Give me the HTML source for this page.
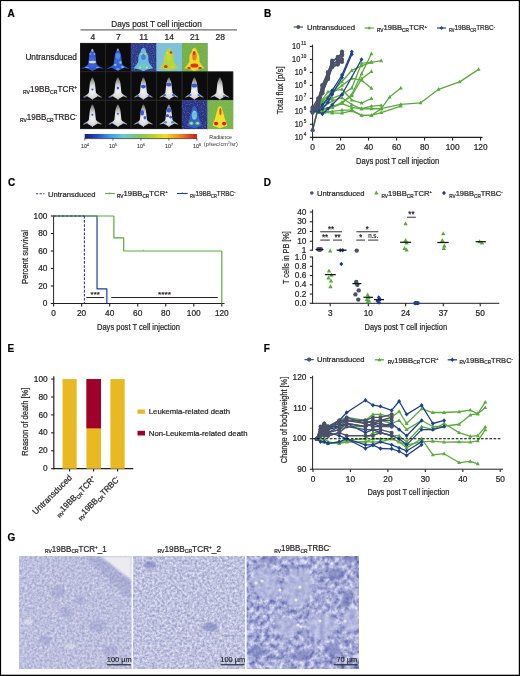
<!DOCTYPE html><html><head><meta charset="utf-8"><style>html,body{margin:0;padding:0;background:#fff;overflow:hidden}svg{display:block;will-change:transform}text{font-family:"Liberation Sans",sans-serif;stroke:#231f20;stroke-width:0.22px;paint-order:stroke}</style></head><body>
<svg width="520" height="676" viewBox="0 0 520 676">
<rect x="0" y="0" width="520" height="676" fill="#fff"/>
<text x="7.50" y="16.80" font-size="10" text-anchor="start" font-weight="bold" fill="#000" >A</text>
<text x="264.00" y="16.70" font-size="10" text-anchor="start" font-weight="bold" fill="#000" >B</text>
<text x="8.00" y="185.50" font-size="10" text-anchor="start" font-weight="bold" fill="#000" >C</text>
<text x="263.80" y="186.30" font-size="10" text-anchor="start" font-weight="bold" fill="#000" >D</text>
<text x="7.50" y="352.00" font-size="10" text-anchor="start" font-weight="bold" fill="#000" >E</text>
<text x="263.80" y="352.00" font-size="10" text-anchor="start" font-weight="bold" fill="#000" >F</text>
<text x="7.60" y="540.60" font-size="10" text-anchor="start" font-weight="bold" fill="#000" >G</text>
<text x="156.50" y="26.60" font-size="8.6" text-anchor="middle" font-weight="normal" fill="#231f20" textLength="90.50" lengthAdjust="spacingAndGlyphs" >Days post T cell injection</text>
<line x1="80.50" y1="29.80" x2="237.00" y2="29.80" stroke="#6d6e71" stroke-width="1.3" />
<text x="92.75" y="40.00" font-size="8.5" text-anchor="middle" font-weight="normal" fill="#231f20" >4</text>
<text x="118.25" y="40.00" font-size="8.5" text-anchor="middle" font-weight="normal" fill="#231f20" >7</text>
<text x="143.75" y="40.00" font-size="8.5" text-anchor="middle" font-weight="normal" fill="#231f20" >11</text>
<text x="169.25" y="40.00" font-size="8.5" text-anchor="middle" font-weight="normal" fill="#231f20" >14</text>
<text x="194.75" y="40.00" font-size="8.5" text-anchor="middle" font-weight="normal" fill="#231f20" >21</text>
<text x="220.25" y="40.00" font-size="8.5" text-anchor="middle" font-weight="normal" fill="#231f20" >28</text>
<text x="77.00" y="60.30" font-size="8.3" text-anchor="end" font-weight="normal" fill="#231f20" textLength="51.60" lengthAdjust="spacingAndGlyphs" >Untransduced</text>
<text x="77.00" y="91.90" font-size="8.3" text-anchor="end" fill="#231f20" textLength="54.00" lengthAdjust="spacingAndGlyphs" ><tspan font-size="5.15" dy="1.66">RV</tspan><tspan dy="-1.66">19BB</tspan><tspan font-size="5.15" dy="1.66">CR</tspan><tspan dy="-1.66">TCR</tspan><tspan font-size="4.57" dy="-3.15">+</tspan></text>
<text x="77.00" y="120.40" font-size="8.3" text-anchor="end" fill="#231f20" textLength="57.00" lengthAdjust="spacingAndGlyphs" ><tspan font-size="5.15" dy="1.66">RV</tspan><tspan dy="-1.66">19BB</tspan><tspan font-size="5.15" dy="1.66">CR</tspan><tspan dy="-1.66">TRBC</tspan><tspan font-size="4.57" dy="-3.15">-</tspan></text>
<defs><filter id="cnoise" x="0" y="0" width="100%" height="100%" color-interpolation-filters="sRGB"><feTurbulence type="fractalNoise" baseFrequency="0.9" numOctaves="1" seed="4"/><feColorMatrix type="matrix" values="0 0 0 0 0.6  0 0 0 0 0.7  0 0 0 0 0.9  2.2 0 0 0 -1.0"/></filter><filter id="mblur" x="-20%" y="-20%" width="140%" height="140%"><feGaussianBlur stdDeviation="0.35"/></filter><radialGradient id="mw" cx="0.5" cy="0.62" r="0.6"><stop offset="0" stop-color="#f4f4f4"/><stop offset="0.45" stop-color="#d8d8d8"/><stop offset="0.8" stop-color="#9a9a9a"/><stop offset="1" stop-color="#666"/></radialGradient><radialGradient id="mb" cx="0.5" cy="0.55" r="0.55"><stop offset="0" stop-color="#3f6ae0"/><stop offset="0.7" stop-color="#3355d6"/><stop offset="1" stop-color="#2a40b0"/></radialGradient></defs>
<rect x="80.00" y="43.00" width="25.80" height="28.90" fill="#0c0c0c"/>
<g transform="translate(80.00,43.00)" filter="url(#mblur)">
<path d="M12.4,5.8 C13.2,5.8 13.6,7.5 14.2,9.2 C14.8,10.2 15.0,11.5 15.1,13 C15.4,16 15.7,19 16.0,21.2 C16.6,22.2 17.5,22.8 18.5,23.4 L21.8,25.4 L21.4,26.1 L17.6,24.7 C16.5,25.6 14.8,26.6 13.4,27.2 L12.4,28.6 L11.4,27.2 C10.0,26.6 8.3,25.6 7.2,24.7 L3.4,26.1 L3.0,25.4 L6.3,23.4 C7.3,22.8 8.2,22.2 8.8,21.2 C9.1,19 9.4,16 9.7,13 C9.8,11.5 10.0,10.2 10.6,9.2 C11.2,7.5 11.6,5.8 12.4,5.8Z" fill="url(#mb)" transform="translate(12.4,0) scale(1.18,1) translate(-12.4,0)"/>
<ellipse cx="12.4" cy="19" rx="3.6" ry="1.3" fill="#d8dce6"/>
<ellipse cx="12.4" cy="7.5" rx="0.9" ry="1.8" fill="#a8b0c0"/>
<ellipse cx="10.5" cy="11" rx="1" ry="1.2" fill="#8090d0"/>
<ellipse cx="14.3" cy="11" rx="1" ry="1.2" fill="#8090d0"/>
<ellipse cx="7" cy="24.5" rx="2" ry="0.8" fill="#58a8f0"/>
<ellipse cx="17.8" cy="24.5" rx="2" ry="0.8" fill="#58a8f0"/>
</g>
<rect x="80.30" y="43.20" width="24.90" height="28.20" fill="none" stroke="#2a2a2a" stroke-width="0.6"/>
<rect x="105.50" y="43.00" width="25.80" height="28.90" fill="#0c0c0c"/>
<g transform="translate(105.50,43.00)" filter="url(#mblur)">
<path d="M12.4,5.8 C13.2,5.8 13.6,7.5 14.2,9.2 C14.8,10.2 15.0,11.5 15.1,13 C15.4,16 15.7,19 16.0,21.2 C16.6,22.2 17.5,22.8 18.5,23.4 L21.8,25.4 L21.4,26.1 L17.6,24.7 C16.5,25.6 14.8,26.6 13.4,27.2 L12.4,28.6 L11.4,27.2 C10.0,26.6 8.3,25.6 7.2,24.7 L3.4,26.1 L3.0,25.4 L6.3,23.4 C7.3,22.8 8.2,22.2 8.8,21.2 C9.1,19 9.4,16 9.7,13 C9.8,11.5 10.0,10.2 10.6,9.2 C11.2,7.5 11.6,5.8 12.4,5.8Z" fill="url(#mb)" transform="translate(12.4,0) scale(1.18,1) translate(-12.4,0)"/>
<ellipse cx="12.4" cy="13" rx="2.4" ry="3" fill="#4f8ee8"/>
<ellipse cx="9.8" cy="22" rx="1.4" ry="1.2" fill="#70c890"/>
<ellipse cx="15" cy="19.5" rx="1.2" ry="1.2" fill="#80d0e0"/>
<ellipse cx="12.4" cy="7" rx="0.8" ry="1.4" fill="#a0a8b8"/>
<ellipse cx="12.4" cy="26" rx="2" ry="1" fill="#5aa0f0"/>
<ellipse cx="17" cy="24" rx="1.5" ry="1" fill="#70c8e0"/>
</g>
<rect x="105.80" y="43.20" width="24.90" height="28.20" fill="none" stroke="#2a2a2a" stroke-width="0.6"/>
<rect x="131.00" y="43.00" width="25.80" height="28.90" fill="#2c3888"/>
<rect x="131.00" y="43.00" width="25.80" height="28.90" filter="url(#cnoise)" opacity="0.5"/>
<g transform="translate(131.00,43.00)" filter="url(#mblur)">
<path d="M12.4,4.8 C14,4.8 15,7 15.3,9.5 C17,11 17.6,13.5 17.4,16.5 C17.3,18.5 17.9,20 19.2,21.5 L22.3,25.2 L16,26.6 L12.4,28.2 L8.8,26.6 L2.5,25.2 L5.6,21.5 C6.9,20 7.5,18.5 7.4,16.5 C7.2,13.5 7.8,11 9.5,9.5 C9.8,7 10.8,4.8 12.4,4.8Z" fill="#6cbce0" transform="translate(12.4,0) scale(1.0,1) translate(-12.4,0)"/>
<ellipse cx="12.4" cy="14" rx="2.3" ry="3" fill="#4a80d4"/>
<ellipse cx="10.6" cy="11" rx="0.9" ry="0.9" fill="#b8e060"/>
<ellipse cx="14.2" cy="11" rx="0.9" ry="0.9" fill="#b8e060"/>
<ellipse cx="12.4" cy="23" rx="3.5" ry="1.8" fill="#60d0c0"/>
<ellipse cx="9" cy="24.5" rx="1.2" ry="0.9" fill="#e0e040"/>
<ellipse cx="15.8" cy="24.5" rx="1.2" ry="0.9" fill="#e0e040"/>
</g>
<rect x="156.50" y="43.00" width="25.80" height="28.90" fill="#7cc3da"/>
<rect x="156.50" y="43.00" width="25.80" height="28.90" filter="url(#cnoise)" opacity="0.5"/>
<g transform="translate(156.50,43.00)" filter="url(#mblur)">
<path d="M12.4,4.8 C14,4.8 15,7 15.3,9.5 C17,11 17.6,13.5 17.4,16.5 C17.3,18.5 17.9,20 19.2,21.5 L22.3,25.2 L16,26.6 L12.4,28.2 L8.8,26.6 L2.5,25.2 L5.6,21.5 C6.9,20 7.5,18.5 7.4,16.5 C7.2,13.5 7.8,11 9.5,9.5 C9.8,7 10.8,4.8 12.4,4.8Z" fill="#b4d440" transform="translate(12.4,0) scale(1.0,1) translate(-12.4,0)"/>
<ellipse cx="12.4" cy="14" rx="2.3" ry="4" fill="#c8d838"/>
<ellipse cx="14.5" cy="9.5" rx="1.3" ry="1.3" fill="#e03020"/>
<ellipse cx="10.5" cy="10" rx="1" ry="1" fill="#f0e020"/>
<ellipse cx="9.3" cy="23.5" rx="1.9" ry="1.6" fill="#e03020"/>
<ellipse cx="16" cy="23.5" rx="1.4" ry="1.1" fill="#f0d020"/>
</g>
<rect x="182.00" y="43.00" width="25.80" height="28.90" fill="#73b23f"/>
<rect x="182.00" y="43.00" width="25.80" height="28.90" filter="url(#cnoise)" opacity="0.5"/>
<g transform="translate(182.00,43.00)" filter="url(#mblur)">
<path d="M12.4,4.8 C14,4.8 15,7 15.3,9.5 C17,11 17.6,13.5 17.4,16.5 C17.3,18.5 17.9,20 19.2,21.5 L22.3,25.2 L16,26.6 L12.4,28.2 L8.8,26.6 L2.5,25.2 L5.6,21.5 C6.9,20 7.5,18.5 7.4,16.5 C7.2,13.5 7.8,11 9.5,9.5 C9.8,7 10.8,4.8 12.4,4.8Z" fill="#f0dc28" transform="translate(12.4,0) scale(1.0,1) translate(-12.4,0)"/>
<ellipse cx="12.4" cy="13" rx="2.3" ry="4.5" fill="#e88020"/>
<ellipse cx="12.1" cy="10" rx="1.1" ry="2" fill="#d82010"/>
<ellipse cx="12.4" cy="22.5" rx="4" ry="2.0" fill="#e03010"/>
<ellipse cx="7" cy="25" rx="1.8" ry="0.9" fill="#e02010"/>
<ellipse cx="18" cy="25" rx="1.8" ry="0.9" fill="#e02010"/>
</g>
<rect x="80.00" y="71.60" width="25.80" height="28.90" fill="#0c0c0c"/>
<g transform="translate(80.00,71.60)" filter="url(#mblur)">
<path d="M12.4,5.8 C13.2,5.8 13.6,7.5 14.2,9.2 C14.8,10.2 15.0,11.5 15.1,13 C15.4,16 15.7,19 16.0,21.2 C16.6,22.2 17.5,22.8 18.5,23.4 L21.8,25.4 L21.4,26.1 L17.6,24.7 C16.5,25.6 14.8,26.6 13.4,27.2 L12.4,28.6 L11.4,27.2 C10.0,26.6 8.3,25.6 7.2,24.7 L3.4,26.1 L3.0,25.4 L6.3,23.4 C7.3,22.8 8.2,22.2 8.8,21.2 C9.1,19 9.4,16 9.7,13 C9.8,11.5 10.0,10.2 10.6,9.2 C11.2,7.5 11.6,5.8 12.4,5.8Z" fill="url(#mw)" transform="translate(12.4,0) scale(1.0,1) translate(-12.4,0)"/>
<ellipse cx="12.4" cy="18" rx="1.1" ry="1.0" fill="#3a55d8"/>
<ellipse cx="5" cy="25.4" rx="1.2" ry="0.6" fill="#3a55d8"/>
</g>
<rect x="80.30" y="71.80" width="24.90" height="28.20" fill="none" stroke="#2a2a2a" stroke-width="0.6"/>
<rect x="105.50" y="71.60" width="25.80" height="28.90" fill="#0c0c0c"/>
<g transform="translate(105.50,71.60)" filter="url(#mblur)">
<path d="M12.4,5.8 C13.2,5.8 13.6,7.5 14.2,9.2 C14.8,10.2 15.0,11.5 15.1,13 C15.4,16 15.7,19 16.0,21.2 C16.6,22.2 17.5,22.8 18.5,23.4 L21.8,25.4 L21.4,26.1 L17.6,24.7 C16.5,25.6 14.8,26.6 13.4,27.2 L12.4,28.6 L11.4,27.2 C10.0,26.6 8.3,25.6 7.2,24.7 L3.4,26.1 L3.0,25.4 L6.3,23.4 C7.3,22.8 8.2,22.2 8.8,21.2 C9.1,19 9.4,16 9.7,13 C9.8,11.5 10.0,10.2 10.6,9.2 C11.2,7.5 11.6,5.8 12.4,5.8Z" fill="url(#mw)" transform="translate(12.4,0) scale(1.0,1) translate(-12.4,0)"/>
<ellipse cx="12.4" cy="16.5" rx="1.2" ry="1.4" fill="#3a55d8"/>
<ellipse cx="5" cy="25.4" rx="1.2" ry="0.6" fill="#3a55d8"/>
</g>
<rect x="105.80" y="71.80" width="24.90" height="28.20" fill="none" stroke="#2a2a2a" stroke-width="0.6"/>
<rect x="131.00" y="71.60" width="25.80" height="28.90" fill="#0c0c0c"/>
<g transform="translate(131.00,71.60)" filter="url(#mblur)">
<path d="M12.4,5.8 C13.2,5.8 13.6,7.5 14.2,9.2 C14.8,10.2 15.0,11.5 15.1,13 C15.4,16 15.7,19 16.0,21.2 C16.6,22.2 17.5,22.8 18.5,23.4 L21.8,25.4 L21.4,26.1 L17.6,24.7 C16.5,25.6 14.8,26.6 13.4,27.2 L12.4,28.6 L11.4,27.2 C10.0,26.6 8.3,25.6 7.2,24.7 L3.4,26.1 L3.0,25.4 L6.3,23.4 C7.3,22.8 8.2,22.2 8.8,21.2 C9.1,19 9.4,16 9.7,13 C9.8,11.5 10.0,10.2 10.6,9.2 C11.2,7.5 11.6,5.8 12.4,5.8Z" fill="url(#mw)" transform="translate(12.4,0) scale(1.0,1) translate(-12.4,0)"/>
<ellipse cx="12.4" cy="15" rx="2.6" ry="1.8" fill="#3a55d8"/>
<ellipse cx="7" cy="24.5" rx="1.5" ry="0.8" fill="#3a55d8"/>
<ellipse cx="18" cy="24.5" rx="1.5" ry="0.8" fill="#3a55d8"/>
</g>
<rect x="131.30" y="71.80" width="24.90" height="28.20" fill="none" stroke="#2a2a2a" stroke-width="0.6"/>
<rect x="156.50" y="71.60" width="25.80" height="28.90" fill="#0c0c0c"/>
<g transform="translate(156.50,71.60)" filter="url(#mblur)">
<path d="M12.4,5.8 C13.2,5.8 13.6,7.5 14.2,9.2 C14.8,10.2 15.0,11.5 15.1,13 C15.4,16 15.7,19 16.0,21.2 C16.6,22.2 17.5,22.8 18.5,23.4 L21.8,25.4 L21.4,26.1 L17.6,24.7 C16.5,25.6 14.8,26.6 13.4,27.2 L12.4,28.6 L11.4,27.2 C10.0,26.6 8.3,25.6 7.2,24.7 L3.4,26.1 L3.0,25.4 L6.3,23.4 C7.3,22.8 8.2,22.2 8.8,21.2 C9.1,19 9.4,16 9.7,13 C9.8,11.5 10.0,10.2 10.6,9.2 C11.2,7.5 11.6,5.8 12.4,5.8Z" fill="url(#mw)" transform="translate(12.4,0) scale(1.0,1) translate(-12.4,0)"/>
<ellipse cx="12.4" cy="13" rx="3.0" ry="1.8" fill="#3a55d8"/>
<ellipse cx="8" cy="23.5" rx="1.6" ry="1.0" fill="#3a55d8"/>
<ellipse cx="17" cy="23.5" rx="1.6" ry="1.0" fill="#3a55d8"/>
</g>
<rect x="156.80" y="71.80" width="24.90" height="28.20" fill="none" stroke="#2a2a2a" stroke-width="0.6"/>
<rect x="182.00" y="71.60" width="25.80" height="28.90" fill="#0c0c0c"/>
<g transform="translate(182.00,71.60)" filter="url(#mblur)">
<path d="M12.4,5.8 C13.2,5.8 13.6,7.5 14.2,9.2 C14.8,10.2 15.0,11.5 15.1,13 C15.4,16 15.7,19 16.0,21.2 C16.6,22.2 17.5,22.8 18.5,23.4 L21.8,25.4 L21.4,26.1 L17.6,24.7 C16.5,25.6 14.8,26.6 13.4,27.2 L12.4,28.6 L11.4,27.2 C10.0,26.6 8.3,25.6 7.2,24.7 L3.4,26.1 L3.0,25.4 L6.3,23.4 C7.3,22.8 8.2,22.2 8.8,21.2 C9.1,19 9.4,16 9.7,13 C9.8,11.5 10.0,10.2 10.6,9.2 C11.2,7.5 11.6,5.8 12.4,5.8Z" fill="url(#mw)" transform="translate(12.4,0) scale(1.0,1) translate(-12.4,0)"/>
<ellipse cx="12.4" cy="14" rx="3" ry="2" fill="#3a55d8"/>
<ellipse cx="8" cy="23.5" rx="1.6" ry="1.0" fill="#4070e0"/>
<ellipse cx="17" cy="23.5" rx="1.6" ry="1.0" fill="#4070e0"/>
</g>
<rect x="182.30" y="71.80" width="24.90" height="28.20" fill="none" stroke="#2a2a2a" stroke-width="0.6"/>
<rect x="207.50" y="71.60" width="25.80" height="28.90" fill="#0c0c0c"/>
<g transform="translate(207.50,71.60)" filter="url(#mblur)">
<path d="M12.4,5.8 C13.2,5.8 13.6,7.5 14.2,9.2 C14.8,10.2 15.0,11.5 15.1,13 C15.4,16 15.7,19 16.0,21.2 C16.6,22.2 17.5,22.8 18.5,23.4 L21.8,25.4 L21.4,26.1 L17.6,24.7 C16.5,25.6 14.8,26.6 13.4,27.2 L12.4,28.6 L11.4,27.2 C10.0,26.6 8.3,25.6 7.2,24.7 L3.4,26.1 L3.0,25.4 L6.3,23.4 C7.3,22.8 8.2,22.2 8.8,21.2 C9.1,19 9.4,16 9.7,13 C9.8,11.5 10.0,10.2 10.6,9.2 C11.2,7.5 11.6,5.8 12.4,5.8Z" fill="url(#mw)" transform="translate(12.4,0) scale(1.0,1) translate(-12.4,0)"/>
<ellipse cx="16.5" cy="24.5" rx="1.2" ry="0.8" fill="#4a6ae0"/>
</g>
<rect x="207.80" y="71.80" width="24.90" height="28.20" fill="none" stroke="#2a2a2a" stroke-width="0.6"/>
<rect x="80.00" y="100.20" width="25.80" height="28.90" fill="#0c0c0c"/>
<g transform="translate(80.00,98.70)" filter="url(#mblur)">
<path d="M12.4,5.8 C13.2,5.8 13.6,7.5 14.2,9.2 C14.8,10.2 15.0,11.5 15.1,13 C15.4,16 15.7,19 16.0,21.2 C16.6,22.2 17.5,22.8 18.5,23.4 L21.8,25.4 L21.4,26.1 L17.6,24.7 C16.5,25.6 14.8,26.6 13.4,27.2 L12.4,28.6 L11.4,27.2 C10.0,26.6 8.3,25.6 7.2,24.7 L3.4,26.1 L3.0,25.4 L6.3,23.4 C7.3,22.8 8.2,22.2 8.8,21.2 C9.1,19 9.4,16 9.7,13 C9.8,11.5 10.0,10.2 10.6,9.2 C11.2,7.5 11.6,5.8 12.4,5.8Z" fill="url(#mw)" transform="translate(12.4,0) scale(1.0,1) translate(-12.4,0)"/>
<ellipse cx="12.4" cy="16" rx="1" ry="1" fill="#3a55d8"/>
<ellipse cx="6.5" cy="24.8" rx="1.2" ry="0.7" fill="#3a55d8"/>
</g>
<rect x="80.30" y="100.40" width="24.90" height="28.20" fill="none" stroke="#2a2a2a" stroke-width="0.6"/>
<rect x="105.50" y="100.20" width="25.80" height="28.90" fill="#0c0c0c"/>
<g transform="translate(105.50,98.70)" filter="url(#mblur)">
<path d="M12.4,5.8 C13.2,5.8 13.6,7.5 14.2,9.2 C14.8,10.2 15.0,11.5 15.1,13 C15.4,16 15.7,19 16.0,21.2 C16.6,22.2 17.5,22.8 18.5,23.4 L21.8,25.4 L21.4,26.1 L17.6,24.7 C16.5,25.6 14.8,26.6 13.4,27.2 L12.4,28.6 L11.4,27.2 C10.0,26.6 8.3,25.6 7.2,24.7 L3.4,26.1 L3.0,25.4 L6.3,23.4 C7.3,22.8 8.2,22.2 8.8,21.2 C9.1,19 9.4,16 9.7,13 C9.8,11.5 10.0,10.2 10.6,9.2 C11.2,7.5 11.6,5.8 12.4,5.8Z" fill="url(#mw)" transform="translate(12.4,0) scale(1.0,1) translate(-12.4,0)"/>
<ellipse cx="12.4" cy="15" rx="1" ry="1" fill="#3a55d8"/>
<ellipse cx="6.5" cy="24.8" rx="1.2" ry="0.7" fill="#3a55d8"/>
</g>
<rect x="105.80" y="100.40" width="24.90" height="28.20" fill="none" stroke="#2a2a2a" stroke-width="0.6"/>
<rect x="131.00" y="100.20" width="25.80" height="28.90" fill="#0c0c0c"/>
<g transform="translate(131.00,98.70)" filter="url(#mblur)">
<path d="M12.4,5.8 C13.2,5.8 13.6,7.5 14.2,9.2 C14.8,10.2 15.0,11.5 15.1,13 C15.4,16 15.7,19 16.0,21.2 C16.6,22.2 17.5,22.8 18.5,23.4 L21.8,25.4 L21.4,26.1 L17.6,24.7 C16.5,25.6 14.8,26.6 13.4,27.2 L12.4,28.6 L11.4,27.2 C10.0,26.6 8.3,25.6 7.2,24.7 L3.4,26.1 L3.0,25.4 L6.3,23.4 C7.3,22.8 8.2,22.2 8.8,21.2 C9.1,19 9.4,16 9.7,13 C9.8,11.5 10.0,10.2 10.6,9.2 C11.2,7.5 11.6,5.8 12.4,5.8Z" fill="url(#mw)" transform="translate(12.4,0) scale(1.0,1) translate(-12.4,0)"/>
<ellipse cx="11.2" cy="14" rx="1.8" ry="2.8" fill="#3a55d8"/>
<ellipse cx="13.8" cy="19" rx="1.3" ry="1.8" fill="#3a55d8"/>
<ellipse cx="7" cy="24.5" rx="1.3" ry="0.8" fill="#3a55d8"/>
</g>
<rect x="131.30" y="100.40" width="24.90" height="28.20" fill="none" stroke="#2a2a2a" stroke-width="0.6"/>
<rect x="156.50" y="100.20" width="25.80" height="28.90" fill="#0c0c0c"/>
<g transform="translate(156.50,98.70)" filter="url(#mblur)">
<path d="M12.4,5.8 C13.2,5.8 13.6,7.5 14.2,9.2 C14.8,10.2 15.0,11.5 15.1,13 C15.4,16 15.7,19 16.0,21.2 C16.6,22.2 17.5,22.8 18.5,23.4 L21.8,25.4 L21.4,26.1 L17.6,24.7 C16.5,25.6 14.8,26.6 13.4,27.2 L12.4,28.6 L11.4,27.2 C10.0,26.6 8.3,25.6 7.2,24.7 L3.4,26.1 L3.0,25.4 L6.3,23.4 C7.3,22.8 8.2,22.2 8.8,21.2 C9.1,19 9.4,16 9.7,13 C9.8,11.5 10.0,10.2 10.6,9.2 C11.2,7.5 11.6,5.8 12.4,5.8Z" fill="url(#mw)" transform="translate(12.4,0) scale(1.0,1) translate(-12.4,0)"/>
<ellipse cx="12.4" cy="11.5" rx="2.4" ry="2.2" fill="#3a55d8"/>
<ellipse cx="11" cy="17" rx="1.6" ry="1.6" fill="#3a55d8"/>
<ellipse cx="14.2" cy="18.5" rx="1.4" ry="1.4" fill="#3a55d8"/>
<ellipse cx="9" cy="23.5" rx="1.5" ry="1.2" fill="#40a0d0"/>
<ellipse cx="16" cy="23.5" rx="1.5" ry="1.2" fill="#40a0d0"/>
</g>
<rect x="156.80" y="100.40" width="24.90" height="28.20" fill="none" stroke="#2a2a2a" stroke-width="0.6"/>
<rect x="182.00" y="100.20" width="25.80" height="28.90" fill="#283182"/>
<rect x="182.00" y="100.20" width="25.80" height="28.90" filter="url(#cnoise)" opacity="0.5"/>
<g transform="translate(182.00,100.20)" filter="url(#mblur)">
<path d="M12.4,6 C13.8,6 14.6,8 15,10 C16,13 16.5,16 17.5,19 C18.5,21.5 19.5,23.5 19.5,25.5 L16,26.8 L12.4,28 L8.8,26.8 L5.3,25.5 C5.3,23.5 6.3,21.5 7.3,19 C8.3,16 8.8,13 9.8,10 C10.2,8 11,6 12.4,6Z" fill="#3562cc" transform="translate(12.4,0) scale(1.0,1) translate(-12.4,0)"/>
<ellipse cx="12.4" cy="15" rx="2.6" ry="4.5" fill="#6cbce6"/>
<ellipse cx="12.4" cy="11.5" rx="0.9" ry="0.9" fill="#a0e080"/>
<ellipse cx="12.4" cy="17.5" rx="1" ry="1" fill="#a0e080"/>
<ellipse cx="9.3" cy="23" rx="2.1" ry="1.8" fill="#78cc70"/>
<ellipse cx="15.5" cy="23" rx="2.1" ry="1.8" fill="#78cc70"/>
<ellipse cx="9.3" cy="23" rx="0.9" ry="0.9" fill="#e0e040"/>
<ellipse cx="15.5" cy="23" rx="0.9" ry="0.9" fill="#e0e040"/>
</g>
<rect x="207.50" y="100.20" width="25.80" height="28.90" fill="#78b642"/>
<rect x="207.50" y="100.20" width="25.80" height="28.90" filter="url(#cnoise)" opacity="0.5"/>
<g transform="translate(207.50,100.20)" filter="url(#mblur)">
<path d="M12.4,6 C13.8,6 14.6,8 15,10 C16,13 16.5,16 17.5,19 C18.5,21.5 19.5,23.5 19.5,25.5 L16,26.8 L12.4,28 L8.8,26.8 L5.3,25.5 C5.3,23.5 6.3,21.5 7.3,19 C8.3,16 8.8,13 9.8,10 C10.2,8 11,6 12.4,6Z" fill="#f2e02a" transform="translate(12.4,0) scale(1.0,1) translate(-12.4,0)"/>
<ellipse cx="12.9" cy="11.5" rx="1.1" ry="3.6" fill="#e05010"/>
<ellipse cx="8.6" cy="23.4" rx="2.1" ry="1.8" fill="#e01818"/>
<ellipse cx="16.6" cy="23.4" rx="2.1" ry="1.8" fill="#e01818"/>
</g>
<defs><linearGradient id="cb" x1="0" x2="1" y1="0" y2="0"><stop offset="0" stop-color="#1c1c70"/><stop offset="0.1" stop-color="#2244c0"/><stop offset="0.22" stop-color="#3c98e8"/><stop offset="0.34" stop-color="#6cc8d8"/><stop offset="0.48" stop-color="#7cc468"/><stop offset="0.6" stop-color="#b8d030"/><stop offset="0.72" stop-color="#f0dc20"/><stop offset="0.86" stop-color="#f08020"/><stop offset="1" stop-color="#d01818"/></linearGradient></defs>
<rect x="84.7" y="134.0" width="112.2" height="4.4" fill="url(#cb)"/>
<line x1="84.50" y1="138.60" x2="197.10" y2="138.60" stroke="#222" stroke-width="0.7" />
<line x1="84.90" y1="138.40" x2="84.90" y2="140.60" stroke="#222" stroke-width="0.6" />
<text x="84.90" y="148.2" font-size="5.4" text-anchor="middle" fill="#231f20" style="stroke-width:0.06px">10<tspan font-size="3.4" dy="-2.2">4</tspan></text>
<line x1="112.90" y1="138.40" x2="112.90" y2="140.60" stroke="#222" stroke-width="0.6" />
<text x="112.90" y="148.2" font-size="5.4" text-anchor="middle" fill="#231f20" style="stroke-width:0.06px">10<tspan font-size="3.4" dy="-2.2">5</tspan></text>
<line x1="140.90" y1="138.40" x2="140.90" y2="140.60" stroke="#222" stroke-width="0.6" />
<text x="140.90" y="148.2" font-size="5.4" text-anchor="middle" fill="#231f20" style="stroke-width:0.06px">10<tspan font-size="3.4" dy="-2.2">6</tspan></text>
<line x1="168.90" y1="138.40" x2="168.90" y2="140.60" stroke="#222" stroke-width="0.6" />
<text x="168.90" y="148.2" font-size="5.4" text-anchor="middle" fill="#231f20" style="stroke-width:0.06px">10<tspan font-size="3.4" dy="-2.2">7</tspan></text>
<line x1="196.90" y1="138.40" x2="196.90" y2="140.60" stroke="#222" stroke-width="0.6" />
<text x="196.90" y="148.2" font-size="5.4" text-anchor="middle" fill="#231f20" style="stroke-width:0.06px">10<tspan font-size="3.4" dy="-2.2">8</tspan></text>
<text x="220.6" y="139.4" font-size="5.6" text-anchor="middle" fill="#333" style="stroke:none" textLength="22.5" lengthAdjust="spacingAndGlyphs">Radiance</text>
<text x="220.8" y="146.0" font-size="5.5" text-anchor="middle" fill="#333" style="stroke:none" textLength="33.9" lengthAdjust="spacingAndGlyphs">(p/sec/cm<tspan font-size="3.6" dy="-2.0">2</tspan><tspan dy="2.0">/sr)</tspan></text>
<polyline points="293.70,27.00 303.00,27.00" fill="none" stroke="#4b5168" stroke-width="1.2" stroke-linejoin="round" />
<circle cx="298.30" cy="27.00" r="1.9" fill="#4b5168"/>
<text x="307.00" y="29.70" font-size="7.6" text-anchor="start" font-weight="normal" fill="#231f20" textLength="48.00" lengthAdjust="spacingAndGlyphs" >Untransduced</text>
<polyline points="364.60,28.00 373.80,28.00" fill="none" stroke="#5aab3c" stroke-width="1.2" stroke-linejoin="round" />
<path d="M369.20,26.06 L371.00,29.30 L367.40,29.30Z" fill="#5aab3c"/>
<text x="377.00" y="30.40" font-size="7.6" text-anchor="start" fill="#231f20" textLength="50.00" lengthAdjust="spacingAndGlyphs" ><tspan font-size="4.71" dy="1.52">RV</tspan><tspan dy="-1.52">19BB</tspan><tspan font-size="4.71" dy="1.52">CR</tspan><tspan dy="-1.52">TCR</tspan><tspan font-size="4.18" dy="-2.89">+</tspan></text>
<polyline points="437.00,28.00 446.00,28.00" fill="none" stroke="#1f3f8f" stroke-width="1.2" stroke-linejoin="round" />
<path d="M441.50,26.00 L443.30,28.00 L441.50,30.00 L439.70,28.00Z" fill="#1f3f8f"/>
<text x="449.00" y="30.40" font-size="7.6" text-anchor="start" fill="#231f20" textLength="46.00" lengthAdjust="spacingAndGlyphs" ><tspan font-size="4.71" dy="1.52">RV</tspan><tspan dy="-1.52">19BB</tspan><tspan font-size="4.71" dy="1.52">CR</tspan><tspan dy="-1.52">TRBC</tspan><tspan font-size="4.18" dy="-2.89">-</tspan></text>
<line x1="312.60" y1="44.60" x2="312.60" y2="138.00" stroke="#231f20" stroke-width="1.0" />
<line x1="312.10" y1="137.40" x2="482.50" y2="137.40" stroke="#231f20" stroke-width="1.1" />
<line x1="309.80" y1="137.30" x2="312.60" y2="137.30" stroke="#231f20" stroke-width="1.1" />
<text x="306.3" y="136.00" font-size="5.8" text-anchor="end" fill="#231f20" textLength="2.60" lengthAdjust="spacingAndGlyphs">4</text>
<text x="302.90" y="139.70" font-size="8.2" text-anchor="end" fill="#231f20" textLength="8.2" lengthAdjust="spacingAndGlyphs">10</text>
<line x1="309.80" y1="124.32" x2="312.60" y2="124.32" stroke="#231f20" stroke-width="1.1" />
<text x="306.3" y="123.02" font-size="5.8" text-anchor="end" fill="#231f20" textLength="2.60" lengthAdjust="spacingAndGlyphs">5</text>
<text x="302.90" y="126.72" font-size="8.2" text-anchor="end" fill="#231f20" textLength="8.2" lengthAdjust="spacingAndGlyphs">10</text>
<line x1="309.80" y1="111.34" x2="312.60" y2="111.34" stroke="#231f20" stroke-width="1.1" />
<text x="306.3" y="110.04" font-size="5.8" text-anchor="end" fill="#231f20" textLength="2.60" lengthAdjust="spacingAndGlyphs">6</text>
<text x="302.90" y="113.74" font-size="8.2" text-anchor="end" fill="#231f20" textLength="8.2" lengthAdjust="spacingAndGlyphs">10</text>
<line x1="309.80" y1="98.36" x2="312.60" y2="98.36" stroke="#231f20" stroke-width="1.1" />
<text x="306.3" y="97.06" font-size="5.8" text-anchor="end" fill="#231f20" textLength="2.60" lengthAdjust="spacingAndGlyphs">7</text>
<text x="302.90" y="100.76" font-size="8.2" text-anchor="end" fill="#231f20" textLength="8.2" lengthAdjust="spacingAndGlyphs">10</text>
<line x1="309.80" y1="85.38" x2="312.60" y2="85.38" stroke="#231f20" stroke-width="1.1" />
<text x="306.3" y="84.08" font-size="5.8" text-anchor="end" fill="#231f20" textLength="2.60" lengthAdjust="spacingAndGlyphs">8</text>
<text x="302.90" y="87.78" font-size="8.2" text-anchor="end" fill="#231f20" textLength="8.2" lengthAdjust="spacingAndGlyphs">10</text>
<line x1="309.80" y1="72.40" x2="312.60" y2="72.40" stroke="#231f20" stroke-width="1.1" />
<text x="306.3" y="71.10" font-size="5.8" text-anchor="end" fill="#231f20" textLength="2.60" lengthAdjust="spacingAndGlyphs">9</text>
<text x="302.90" y="74.80" font-size="8.2" text-anchor="end" fill="#231f20" textLength="8.2" lengthAdjust="spacingAndGlyphs">10</text>
<line x1="309.80" y1="59.42" x2="312.60" y2="59.42" stroke="#231f20" stroke-width="1.1" />
<text x="306.3" y="58.12" font-size="5.8" text-anchor="end" fill="#231f20" textLength="5.20" lengthAdjust="spacingAndGlyphs">10</text>
<text x="300.30" y="61.82" font-size="8.2" text-anchor="end" fill="#231f20" textLength="8.2" lengthAdjust="spacingAndGlyphs">10</text>
<line x1="309.80" y1="46.44" x2="312.60" y2="46.44" stroke="#231f20" stroke-width="1.1" />
<text x="306.3" y="45.14" font-size="5.8" text-anchor="end" fill="#231f20" textLength="5.20" lengthAdjust="spacingAndGlyphs">11</text>
<text x="300.30" y="48.84" font-size="8.2" text-anchor="end" fill="#231f20" textLength="8.2" lengthAdjust="spacingAndGlyphs">10</text>
<line x1="312.60" y1="137.40" x2="312.60" y2="140.50" stroke="#231f20" stroke-width="1.1" />
<text x="312.60" y="150.45" font-size="8.3" text-anchor="middle" font-weight="normal" fill="#231f20" >0</text>
<line x1="340.60" y1="137.40" x2="340.60" y2="140.50" stroke="#231f20" stroke-width="1.1" />
<text x="340.60" y="150.45" font-size="8.3" text-anchor="middle" font-weight="normal" fill="#231f20" >20</text>
<line x1="368.60" y1="137.40" x2="368.60" y2="140.50" stroke="#231f20" stroke-width="1.1" />
<text x="368.60" y="150.45" font-size="8.3" text-anchor="middle" font-weight="normal" fill="#231f20" >40</text>
<line x1="396.60" y1="137.40" x2="396.60" y2="140.50" stroke="#231f20" stroke-width="1.1" />
<text x="396.60" y="150.45" font-size="8.3" text-anchor="middle" font-weight="normal" fill="#231f20" >60</text>
<line x1="424.60" y1="137.40" x2="424.60" y2="140.50" stroke="#231f20" stroke-width="1.1" />
<text x="424.60" y="150.45" font-size="8.3" text-anchor="middle" font-weight="normal" fill="#231f20" >80</text>
<line x1="452.60" y1="137.40" x2="452.60" y2="140.50" stroke="#231f20" stroke-width="1.1" />
<text x="452.60" y="150.45" font-size="8.3" text-anchor="middle" font-weight="normal" fill="#231f20" >100</text>
<line x1="480.60" y1="137.40" x2="480.60" y2="140.50" stroke="#231f20" stroke-width="1.1" />
<text x="480.60" y="150.45" font-size="8.3" text-anchor="middle" font-weight="normal" fill="#231f20" >120</text>
<text x="279.6" y="90.3" font-size="9.4" text-anchor="middle" fill="#231f20" transform="rotate(-90 279.6 90.3)" dy="3.3" textLength="47.8" lengthAdjust="spacingAndGlyphs">Total flux [p/s]</text>
<text x="397.60" y="164.40" font-size="9.4" text-anchor="middle" font-weight="normal" fill="#231f20" textLength="83.00" lengthAdjust="spacingAndGlyphs" >Days post T cell injection</text>
<polyline points="312.60,111.34 318.20,110.04 322.40,108.74 332.20,107.45 342.00,103.55 351.80,94.47 361.60,73.70 371.40,53.71" fill="none" stroke="#5aab3c" stroke-width="1.3" stroke-linejoin="round" />
<path d="M312.60,109.18 L314.60,112.78 L310.60,112.78Z" fill="#5aab3c"/>
<path d="M318.20,107.88 L320.20,111.48 L316.20,111.48Z" fill="#5aab3c"/>
<path d="M322.40,106.58 L324.40,110.18 L320.40,110.18Z" fill="#5aab3c"/>
<path d="M332.20,105.29 L334.20,108.89 L330.20,108.89Z" fill="#5aab3c"/>
<path d="M342.00,101.39 L344.00,104.99 L340.00,104.99Z" fill="#5aab3c"/>
<path d="M351.80,92.31 L353.80,95.91 L349.80,95.91Z" fill="#5aab3c"/>
<path d="M361.60,71.54 L363.60,75.14 L359.60,75.14Z" fill="#5aab3c"/>
<path d="M371.40,51.55 L373.40,55.15 L369.40,55.15Z" fill="#5aab3c"/>
<polyline points="312.60,111.34 318.20,107.45 322.40,100.96 332.20,91.87 342.00,81.49 351.80,70.45 361.60,65.91 371.40,62.28 381.20,60.72" fill="none" stroke="#5aab3c" stroke-width="1.3" stroke-linejoin="round" />
<path d="M312.60,109.18 L314.60,112.78 L310.60,112.78Z" fill="#5aab3c"/>
<path d="M318.20,105.29 L320.20,108.89 L316.20,108.89Z" fill="#5aab3c"/>
<path d="M322.40,98.80 L324.40,102.40 L320.40,102.40Z" fill="#5aab3c"/>
<path d="M332.20,89.71 L334.20,93.31 L330.20,93.31Z" fill="#5aab3c"/>
<path d="M342.00,79.33 L344.00,82.93 L340.00,82.93Z" fill="#5aab3c"/>
<path d="M351.80,68.29 L353.80,71.89 L349.80,71.89Z" fill="#5aab3c"/>
<path d="M361.60,63.75 L363.60,67.35 L359.60,67.35Z" fill="#5aab3c"/>
<path d="M371.40,60.12 L373.40,63.72 L369.40,63.72Z" fill="#5aab3c"/>
<path d="M381.20,58.56 L383.20,62.16 L379.20,62.16Z" fill="#5aab3c"/>
<polyline points="312.60,111.34 318.20,108.74 322.40,103.55 332.20,93.17 342.00,85.38 351.80,78.37 361.60,80.19 371.40,88.24" fill="none" stroke="#5aab3c" stroke-width="1.3" stroke-linejoin="round" />
<path d="M312.60,109.18 L314.60,112.78 L310.60,112.78Z" fill="#5aab3c"/>
<path d="M318.20,106.58 L320.20,110.18 L316.20,110.18Z" fill="#5aab3c"/>
<path d="M322.40,101.39 L324.40,104.99 L320.40,104.99Z" fill="#5aab3c"/>
<path d="M332.20,91.01 L334.20,94.61 L330.20,94.61Z" fill="#5aab3c"/>
<path d="M342.00,83.22 L344.00,86.82 L340.00,86.82Z" fill="#5aab3c"/>
<path d="M351.80,76.21 L353.80,79.81 L349.80,79.81Z" fill="#5aab3c"/>
<path d="M361.60,78.03 L363.60,81.63 L359.60,81.63Z" fill="#5aab3c"/>
<path d="M371.40,86.08 L373.40,89.68 L369.40,89.68Z" fill="#5aab3c"/>
<polyline points="312.60,111.34 318.20,111.34 322.40,110.04 332.20,107.45 342.00,102.25 351.80,95.76 361.60,78.89 371.40,71.49" fill="none" stroke="#5aab3c" stroke-width="1.3" stroke-linejoin="round" />
<path d="M312.60,109.18 L314.60,112.78 L310.60,112.78Z" fill="#5aab3c"/>
<path d="M318.20,109.18 L320.20,112.78 L316.20,112.78Z" fill="#5aab3c"/>
<path d="M322.40,107.88 L324.40,111.48 L320.40,111.48Z" fill="#5aab3c"/>
<path d="M332.20,105.29 L334.20,108.89 L330.20,108.89Z" fill="#5aab3c"/>
<path d="M342.00,100.09 L344.00,103.69 L340.00,103.69Z" fill="#5aab3c"/>
<path d="M351.80,93.60 L353.80,97.20 L349.80,97.20Z" fill="#5aab3c"/>
<path d="M361.60,76.73 L363.60,80.33 L359.60,80.33Z" fill="#5aab3c"/>
<path d="M371.40,69.33 L373.40,72.93 L369.40,72.93Z" fill="#5aab3c"/>
<polyline points="312.60,111.34 318.20,107.45 322.40,99.66 328.00,91.87 332.20,90.83 342.00,89.27 351.80,100.05 361.60,103.16 371.40,98.49" fill="none" stroke="#5aab3c" stroke-width="1.3" stroke-linejoin="round" />
<path d="M312.60,109.18 L314.60,112.78 L310.60,112.78Z" fill="#5aab3c"/>
<path d="M318.20,105.29 L320.20,108.89 L316.20,108.89Z" fill="#5aab3c"/>
<path d="M322.40,97.50 L324.40,101.10 L320.40,101.10Z" fill="#5aab3c"/>
<path d="M328.00,89.71 L330.00,93.31 L326.00,93.31Z" fill="#5aab3c"/>
<path d="M332.20,88.67 L334.20,92.27 L330.20,92.27Z" fill="#5aab3c"/>
<path d="M342.00,87.11 L344.00,90.71 L340.00,90.71Z" fill="#5aab3c"/>
<path d="M351.80,97.89 L353.80,101.49 L349.80,101.49Z" fill="#5aab3c"/>
<path d="M361.60,101.00 L363.60,104.60 L359.60,104.60Z" fill="#5aab3c"/>
<path d="M371.40,96.33 L373.40,99.93 L369.40,99.93Z" fill="#5aab3c"/>
<polyline points="312.60,111.34 318.20,110.04 322.40,107.45 332.20,100.96 342.00,97.71 351.80,104.59 361.60,108.74 371.40,106.15 381.20,105.37" fill="none" stroke="#5aab3c" stroke-width="1.3" stroke-linejoin="round" />
<path d="M312.60,109.18 L314.60,112.78 L310.60,112.78Z" fill="#5aab3c"/>
<path d="M318.20,107.88 L320.20,111.48 L316.20,111.48Z" fill="#5aab3c"/>
<path d="M322.40,105.29 L324.40,108.89 L320.40,108.89Z" fill="#5aab3c"/>
<path d="M332.20,98.80 L334.20,102.40 L330.20,102.40Z" fill="#5aab3c"/>
<path d="M342.00,95.55 L344.00,99.15 L340.00,99.15Z" fill="#5aab3c"/>
<path d="M351.80,102.43 L353.80,106.03 L349.80,106.03Z" fill="#5aab3c"/>
<path d="M361.60,106.58 L363.60,110.18 L359.60,110.18Z" fill="#5aab3c"/>
<path d="M371.40,103.99 L373.40,107.59 L369.40,107.59Z" fill="#5aab3c"/>
<path d="M381.20,103.21 L383.20,106.81 L379.20,106.81Z" fill="#5aab3c"/>
<polyline points="312.60,111.34 318.20,111.99 324.64,112.38 332.20,113.03 342.00,113.03 351.80,110.82 361.60,115.36 371.40,115.36 381.20,108.74 400.80,104.33 420.40,102.90 438.60,89.27 459.60,81.88 478.64,69.41" fill="none" stroke="#5aab3c" stroke-width="1.3" stroke-linejoin="round" />
<path d="M312.60,109.18 L314.60,112.78 L310.60,112.78Z" fill="#5aab3c"/>
<path d="M318.20,109.83 L320.20,113.43 L316.20,113.43Z" fill="#5aab3c"/>
<path d="M324.64,110.22 L326.64,113.82 L322.64,113.82Z" fill="#5aab3c"/>
<path d="M332.20,110.87 L334.20,114.47 L330.20,114.47Z" fill="#5aab3c"/>
<path d="M342.00,110.87 L344.00,114.47 L340.00,114.47Z" fill="#5aab3c"/>
<path d="M351.80,108.66 L353.80,112.26 L349.80,112.26Z" fill="#5aab3c"/>
<path d="M361.60,113.20 L363.60,116.80 L359.60,116.80Z" fill="#5aab3c"/>
<path d="M371.40,113.20 L373.40,116.80 L369.40,116.80Z" fill="#5aab3c"/>
<path d="M381.20,106.58 L383.20,110.18 L379.20,110.18Z" fill="#5aab3c"/>
<path d="M400.80,102.17 L402.80,105.77 L398.80,105.77Z" fill="#5aab3c"/>
<path d="M420.40,100.74 L422.40,104.34 L418.40,104.34Z" fill="#5aab3c"/>
<path d="M438.60,87.11 L440.60,90.71 L436.60,90.71Z" fill="#5aab3c"/>
<path d="M459.60,79.72 L461.60,83.32 L457.60,83.32Z" fill="#5aab3c"/>
<path d="M478.64,67.25 L480.64,70.85 L476.64,70.85Z" fill="#5aab3c"/>
<polyline points="312.60,111.34 318.20,111.34 322.40,110.04 332.20,106.15 342.00,103.55 351.80,107.45 361.60,108.74 371.40,108.74 381.20,108.74 389.60,97.06 400.80,87.98" fill="none" stroke="#5aab3c" stroke-width="1.3" stroke-linejoin="round" />
<path d="M312.60,109.18 L314.60,112.78 L310.60,112.78Z" fill="#5aab3c"/>
<path d="M318.20,109.18 L320.20,112.78 L316.20,112.78Z" fill="#5aab3c"/>
<path d="M322.40,107.88 L324.40,111.48 L320.40,111.48Z" fill="#5aab3c"/>
<path d="M332.20,103.99 L334.20,107.59 L330.20,107.59Z" fill="#5aab3c"/>
<path d="M342.00,101.39 L344.00,104.99 L340.00,104.99Z" fill="#5aab3c"/>
<path d="M351.80,105.29 L353.80,108.89 L349.80,108.89Z" fill="#5aab3c"/>
<path d="M361.60,106.58 L363.60,110.18 L359.60,110.18Z" fill="#5aab3c"/>
<path d="M371.40,106.58 L373.40,110.18 L369.40,110.18Z" fill="#5aab3c"/>
<path d="M381.20,106.58 L383.20,110.18 L379.20,110.18Z" fill="#5aab3c"/>
<path d="M389.60,94.90 L391.60,98.50 L387.60,98.50Z" fill="#5aab3c"/>
<path d="M400.80,85.82 L402.80,89.42 L398.80,89.42Z" fill="#5aab3c"/>
<polyline points="312.60,111.34 318.20,112.64 322.40,111.99 332.20,111.34 342.00,110.04 351.80,110.04 361.60,115.36 371.40,115.36 381.20,112.64 400.80,106.15" fill="none" stroke="#5aab3c" stroke-width="1.3" stroke-linejoin="round" />
<path d="M312.60,109.18 L314.60,112.78 L310.60,112.78Z" fill="#5aab3c"/>
<path d="M318.20,110.48 L320.20,114.08 L316.20,114.08Z" fill="#5aab3c"/>
<path d="M322.40,109.83 L324.40,113.43 L320.40,113.43Z" fill="#5aab3c"/>
<path d="M332.20,109.18 L334.20,112.78 L330.20,112.78Z" fill="#5aab3c"/>
<path d="M342.00,107.88 L344.00,111.48 L340.00,111.48Z" fill="#5aab3c"/>
<path d="M351.80,107.88 L353.80,111.48 L349.80,111.48Z" fill="#5aab3c"/>
<path d="M361.60,113.20 L363.60,116.80 L359.60,116.80Z" fill="#5aab3c"/>
<path d="M371.40,113.20 L373.40,116.80 L369.40,116.80Z" fill="#5aab3c"/>
<path d="M381.20,110.48 L383.20,114.08 L379.20,114.08Z" fill="#5aab3c"/>
<path d="M400.80,103.99 L402.80,107.59 L398.80,107.59Z" fill="#5aab3c"/>
<polyline points="312.60,130.16 318.20,108.74 322.40,104.85 332.20,98.36 342.00,94.47 351.80,87.98 361.60,63.31 371.40,62.02" fill="none" stroke="#5aab3c" stroke-width="1.3" stroke-linejoin="round" />
<path d="M312.60,128.00 L314.60,131.60 L310.60,131.60Z" fill="#5aab3c"/>
<path d="M318.20,106.58 L320.20,110.18 L316.20,110.18Z" fill="#5aab3c"/>
<path d="M322.40,102.69 L324.40,106.29 L320.40,106.29Z" fill="#5aab3c"/>
<path d="M332.20,96.20 L334.20,99.80 L330.20,99.80Z" fill="#5aab3c"/>
<path d="M342.00,92.31 L344.00,95.91 L340.00,95.91Z" fill="#5aab3c"/>
<path d="M351.80,85.82 L353.80,89.42 L349.80,89.42Z" fill="#5aab3c"/>
<path d="M361.60,61.15 L363.60,64.75 L359.60,64.75Z" fill="#5aab3c"/>
<path d="M371.40,59.86 L373.40,63.46 L369.40,63.46Z" fill="#5aab3c"/>
<polyline points="312.60,111.34 318.20,110.04 322.40,104.85 328.00,98.36 332.20,90.57 342.00,75.00 351.80,51.63" fill="none" stroke="#1f3f8f" stroke-width="1.3" stroke-linejoin="round" />
<path d="M312.60,109.14 L314.58,111.34 L312.60,113.54 L310.62,111.34Z" fill="#1f3f8f"/>
<path d="M318.20,107.84 L320.18,110.04 L318.20,112.24 L316.22,110.04Z" fill="#1f3f8f"/>
<path d="M322.40,102.65 L324.38,104.85 L322.40,107.05 L320.42,104.85Z" fill="#1f3f8f"/>
<path d="M328.00,96.16 L329.98,98.36 L328.00,100.56 L326.02,98.36Z" fill="#1f3f8f"/>
<path d="M332.20,88.37 L334.18,90.57 L332.20,92.77 L330.22,90.57Z" fill="#1f3f8f"/>
<path d="M342.00,72.80 L343.98,75.00 L342.00,77.20 L340.02,75.00Z" fill="#1f3f8f"/>
<path d="M351.80,49.43 L353.78,51.63 L351.80,53.83 L349.82,51.63Z" fill="#1f3f8f"/>
<polyline points="312.60,111.34 318.20,111.34 322.40,108.74 328.00,102.25 332.20,94.47 342.00,77.59 351.80,54.23" fill="none" stroke="#1f3f8f" stroke-width="1.3" stroke-linejoin="round" />
<path d="M312.60,109.14 L314.58,111.34 L312.60,113.54 L310.62,111.34Z" fill="#1f3f8f"/>
<path d="M318.20,109.14 L320.18,111.34 L318.20,113.54 L316.22,111.34Z" fill="#1f3f8f"/>
<path d="M322.40,106.54 L324.38,108.74 L322.40,110.94 L320.42,108.74Z" fill="#1f3f8f"/>
<path d="M328.00,100.05 L329.98,102.25 L328.00,104.45 L326.02,102.25Z" fill="#1f3f8f"/>
<path d="M332.20,92.27 L334.18,94.47 L332.20,96.67 L330.22,94.47Z" fill="#1f3f8f"/>
<path d="M342.00,75.39 L343.98,77.59 L342.00,79.79 L340.02,77.59Z" fill="#1f3f8f"/>
<path d="M351.80,52.03 L353.78,54.23 L351.80,56.43 L349.82,54.23Z" fill="#1f3f8f"/>
<polyline points="312.60,111.34 318.20,111.34 322.40,113.94 328.00,108.74 332.20,104.85 342.00,94.47 361.60,59.42" fill="none" stroke="#1f3f8f" stroke-width="1.3" stroke-linejoin="round" />
<path d="M312.60,109.14 L314.58,111.34 L312.60,113.54 L310.62,111.34Z" fill="#1f3f8f"/>
<path d="M318.20,109.14 L320.18,111.34 L318.20,113.54 L316.22,111.34Z" fill="#1f3f8f"/>
<path d="M322.40,111.74 L324.38,113.94 L322.40,116.14 L320.42,113.94Z" fill="#1f3f8f"/>
<path d="M328.00,106.54 L329.98,108.74 L328.00,110.94 L326.02,108.74Z" fill="#1f3f8f"/>
<path d="M332.20,102.65 L334.18,104.85 L332.20,107.05 L330.22,104.85Z" fill="#1f3f8f"/>
<path d="M342.00,92.27 L343.98,94.47 L342.00,96.67 L340.02,94.47Z" fill="#1f3f8f"/>
<path d="M361.60,57.22 L363.58,59.42 L361.60,61.62 L359.62,59.42Z" fill="#1f3f8f"/>
<polyline points="312.60,111.34 318.20,104.85 322.40,90.57 328.00,77.59 332.20,64.61 337.80,60.72 342.00,51.63" fill="none" stroke="#4b5168" stroke-width="1.5" stroke-linejoin="round" />
<circle cx="312.60" cy="111.34" r="2.1" fill="#4b5168"/>
<circle cx="318.20" cy="104.85" r="2.1" fill="#4b5168"/>
<circle cx="322.40" cy="90.57" r="2.1" fill="#4b5168"/>
<circle cx="328.00" cy="77.59" r="2.1" fill="#4b5168"/>
<circle cx="332.20" cy="64.61" r="2.1" fill="#4b5168"/>
<circle cx="337.80" cy="60.72" r="2.1" fill="#4b5168"/>
<circle cx="342.00" cy="51.63" r="2.1" fill="#4b5168"/>
<polyline points="312.60,110.04 318.20,100.96 322.40,85.38 328.00,72.40 332.20,60.72 337.80,58.12 342.00,52.93" fill="none" stroke="#4b5168" stroke-width="1.5" stroke-linejoin="round" />
<circle cx="312.60" cy="110.04" r="2.1" fill="#4b5168"/>
<circle cx="318.20" cy="100.96" r="2.1" fill="#4b5168"/>
<circle cx="322.40" cy="85.38" r="2.1" fill="#4b5168"/>
<circle cx="328.00" cy="72.40" r="2.1" fill="#4b5168"/>
<circle cx="332.20" cy="60.72" r="2.1" fill="#4b5168"/>
<circle cx="337.80" cy="58.12" r="2.1" fill="#4b5168"/>
<circle cx="342.00" cy="52.93" r="2.1" fill="#4b5168"/>
<polyline points="312.60,108.74 318.20,103.55 322.40,87.98 328.00,75.00 332.20,63.31 337.80,62.02 342.00,59.42" fill="none" stroke="#4b5168" stroke-width="1.5" stroke-linejoin="round" />
<circle cx="312.60" cy="108.74" r="2.1" fill="#4b5168"/>
<circle cx="318.20" cy="103.55" r="2.1" fill="#4b5168"/>
<circle cx="322.40" cy="87.98" r="2.1" fill="#4b5168"/>
<circle cx="328.00" cy="75.00" r="2.1" fill="#4b5168"/>
<circle cx="332.20" cy="63.31" r="2.1" fill="#4b5168"/>
<circle cx="337.80" cy="62.02" r="2.1" fill="#4b5168"/>
<circle cx="342.00" cy="59.42" r="2.1" fill="#4b5168"/>
<polyline points="312.60,112.64 318.20,106.15 322.40,91.87 328.00,78.89 332.20,65.91 337.80,63.31 342.00,62.02" fill="none" stroke="#4b5168" stroke-width="1.5" stroke-linejoin="round" />
<circle cx="312.60" cy="112.64" r="2.1" fill="#4b5168"/>
<circle cx="318.20" cy="106.15" r="2.1" fill="#4b5168"/>
<circle cx="322.40" cy="91.87" r="2.1" fill="#4b5168"/>
<circle cx="328.00" cy="78.89" r="2.1" fill="#4b5168"/>
<circle cx="332.20" cy="65.91" r="2.1" fill="#4b5168"/>
<circle cx="337.80" cy="63.31" r="2.1" fill="#4b5168"/>
<circle cx="342.00" cy="62.02" r="2.1" fill="#4b5168"/>
<polyline points="312.60,130.16 318.20,107.45 322.40,93.17 328.00,78.89 332.20,67.21 337.80,64.61 342.00,55.53" fill="none" stroke="#4b5168" stroke-width="1.5" stroke-linejoin="round" />
<circle cx="312.60" cy="130.16" r="2.1" fill="#4b5168"/>
<circle cx="318.20" cy="107.45" r="2.1" fill="#4b5168"/>
<circle cx="322.40" cy="93.17" r="2.1" fill="#4b5168"/>
<circle cx="328.00" cy="78.89" r="2.1" fill="#4b5168"/>
<circle cx="332.20" cy="67.21" r="2.1" fill="#4b5168"/>
<circle cx="337.80" cy="64.61" r="2.1" fill="#4b5168"/>
<circle cx="342.00" cy="55.53" r="2.1" fill="#4b5168"/>
<polyline points="312.60,107.45 318.20,98.36 322.40,85.38 328.00,72.40 332.20,62.02 337.80,56.82 342.00,54.23" fill="none" stroke="#4b5168" stroke-width="1.5" stroke-linejoin="round" />
<circle cx="312.60" cy="107.45" r="2.1" fill="#4b5168"/>
<circle cx="318.20" cy="98.36" r="2.1" fill="#4b5168"/>
<circle cx="322.40" cy="85.38" r="2.1" fill="#4b5168"/>
<circle cx="328.00" cy="72.40" r="2.1" fill="#4b5168"/>
<circle cx="332.20" cy="62.02" r="2.1" fill="#4b5168"/>
<circle cx="337.80" cy="56.82" r="2.1" fill="#4b5168"/>
<circle cx="342.00" cy="54.23" r="2.1" fill="#4b5168"/>
<line x1="36" y1="193.8" x2="44.5" y2="193.8" stroke="#3b4263" stroke-width="1.1" stroke-dasharray="2.2,1.4"/>
<text x="48.00" y="196.50" font-size="7.8" text-anchor="start" font-weight="normal" fill="#231f20" textLength="47.50" lengthAdjust="spacingAndGlyphs" >Untransduced</text>
<line x1="105.00" y1="193.50" x2="114.80" y2="193.50" stroke="#5aab3c" stroke-width="1.1" />
<line x1="109.90" y1="192.30" x2="109.90" y2="193.50" stroke="#5aab3c" stroke-width="0.8" />
<text x="117.00" y="196.30" font-size="7.8" text-anchor="start" fill="#231f20" textLength="50.70" lengthAdjust="spacingAndGlyphs" ><tspan font-size="4.84" dy="1.56">RV</tspan><tspan dy="-1.56">19BB</tspan><tspan font-size="4.84" dy="1.56">CR</tspan><tspan dy="-1.56">TCR</tspan><tspan font-size="4.29" dy="-2.96">+</tspan></text>
<line x1="177.00" y1="193.50" x2="187.70" y2="193.50" stroke="#1f3f8f" stroke-width="1.1" />
<line x1="182.30" y1="192.30" x2="182.30" y2="193.50" stroke="#1f3f8f" stroke-width="0.8" />
<text x="190.00" y="196.30" font-size="7.8" text-anchor="start" fill="#231f20" textLength="45.40" lengthAdjust="spacingAndGlyphs" ><tspan font-size="4.84" dy="1.56">RV</tspan><tspan dy="-1.56">19BB</tspan><tspan font-size="4.84" dy="1.56">CR</tspan><tspan dy="-1.56">TRBC</tspan><tspan font-size="4.29" dy="-2.96">-</tspan></text>
<line x1="53.60" y1="215.50" x2="53.60" y2="304.00" stroke="#231f20" stroke-width="1.0" />
<line x1="53.10" y1="303.50" x2="224.50" y2="303.50" stroke="#231f20" stroke-width="1.0" />
<line x1="50.80" y1="303.50" x2="53.60" y2="303.50" stroke="#231f20" stroke-width="1.1" />
<text x="47.40" y="306.15" font-size="8.3" text-anchor="end" font-weight="normal" fill="#231f20" >0</text>
<line x1="50.80" y1="286.00" x2="53.60" y2="286.00" stroke="#231f20" stroke-width="1.1" />
<text x="47.40" y="288.65" font-size="8.3" text-anchor="end" font-weight="normal" fill="#231f20" >20</text>
<line x1="50.80" y1="268.50" x2="53.60" y2="268.50" stroke="#231f20" stroke-width="1.1" />
<text x="47.40" y="271.15" font-size="8.3" text-anchor="end" font-weight="normal" fill="#231f20" >40</text>
<line x1="50.80" y1="251.00" x2="53.60" y2="251.00" stroke="#231f20" stroke-width="1.1" />
<text x="47.40" y="253.65" font-size="8.3" text-anchor="end" font-weight="normal" fill="#231f20" >60</text>
<line x1="50.80" y1="233.50" x2="53.60" y2="233.50" stroke="#231f20" stroke-width="1.1" />
<text x="47.40" y="236.15" font-size="8.3" text-anchor="end" font-weight="normal" fill="#231f20" >80</text>
<line x1="50.80" y1="216.00" x2="53.60" y2="216.00" stroke="#231f20" stroke-width="1.1" />
<text x="47.40" y="218.65" font-size="8.3" text-anchor="end" font-weight="normal" fill="#231f20" >100</text>
<line x1="53.60" y1="303.50" x2="53.60" y2="306.40" stroke="#231f20" stroke-width="1.1" />
<text x="53.60" y="316.45" font-size="8.3" text-anchor="middle" font-weight="normal" fill="#231f20" >0</text>
<line x1="81.63" y1="303.50" x2="81.63" y2="306.40" stroke="#231f20" stroke-width="1.1" />
<text x="81.63" y="316.45" font-size="8.3" text-anchor="middle" font-weight="normal" fill="#231f20" >20</text>
<line x1="109.67" y1="303.50" x2="109.67" y2="306.40" stroke="#231f20" stroke-width="1.1" />
<text x="109.67" y="316.45" font-size="8.3" text-anchor="middle" font-weight="normal" fill="#231f20" >40</text>
<line x1="137.70" y1="303.50" x2="137.70" y2="306.40" stroke="#231f20" stroke-width="1.1" />
<text x="137.70" y="316.45" font-size="8.3" text-anchor="middle" font-weight="normal" fill="#231f20" >60</text>
<line x1="165.74" y1="303.50" x2="165.74" y2="306.40" stroke="#231f20" stroke-width="1.1" />
<text x="165.74" y="316.45" font-size="8.3" text-anchor="middle" font-weight="normal" fill="#231f20" >80</text>
<line x1="193.77" y1="303.50" x2="193.77" y2="306.40" stroke="#231f20" stroke-width="1.1" />
<text x="193.77" y="316.45" font-size="8.3" text-anchor="middle" font-weight="normal" fill="#231f20" >100</text>
<line x1="221.80" y1="303.50" x2="221.80" y2="306.40" stroke="#231f20" stroke-width="1.1" />
<text x="221.80" y="316.45" font-size="8.3" text-anchor="middle" font-weight="normal" fill="#231f20" >120</text>
<text x="25.0" y="257.0" font-size="9.4" text-anchor="middle" fill="#231f20" transform="rotate(-90 25.0 257.0)" dy="3.3" textLength="54" lengthAdjust="spacingAndGlyphs">Percent survival</text>
<text x="138.50" y="330.30" font-size="9.4" text-anchor="middle" font-weight="normal" fill="#231f20" textLength="83.00" lengthAdjust="spacingAndGlyphs" >Days post T cell injection</text>
<polyline points="53.60,216.00 97.05,216.00 97.05,288.89 106.86,288.89 106.86,303.50" fill="none" stroke="#1f3f8f" stroke-width="1.2" stroke-linejoin="round" />
<polyline points="53.60,216.00 113.87,216.00 113.87,237.88 123.69,237.88 123.69,251.00 221.80,251.00 221.80,303.50" fill="none" stroke="#5aab3c" stroke-width="1.2" stroke-linejoin="round" />
<line x1="53.60" y1="216.00" x2="84.44" y2="216.00" stroke="#3b4263" stroke-width="1.2" stroke-dasharray="2.6,1.5"/>
<line x1="84.44" y1="216.00" x2="84.44" y2="303.50" stroke="#3b4263" stroke-width="1.1" stroke-dasharray="2.6,1.5"/>
<line x1="117.38" y1="236.68" x2="117.38" y2="237.88" stroke="#5aab3c" stroke-width="0.7" />
<line x1="143.31" y1="249.80" x2="143.31" y2="251.00" stroke="#5aab3c" stroke-width="0.7" />
<line x1="86.30" y1="297.50" x2="104.00" y2="297.50" stroke="#231f20" stroke-width="1.0" />
<text x="95.20" y="297.00" font-size="7.4" text-anchor="middle" font-weight="normal" fill="#231f20" textLength="9.20" lengthAdjust="spacingAndGlyphs" >***</text>
<line x1="111.30" y1="297.50" x2="217.70" y2="297.50" stroke="#231f20" stroke-width="1.0" />
<text x="164.50" y="297.00" font-size="7.4" text-anchor="middle" font-weight="normal" fill="#231f20" textLength="13.10" lengthAdjust="spacingAndGlyphs" >****</text>
<circle cx="311.80" cy="193.00" r="1.8" fill="#4b5168"/>
<text x="317.00" y="195.70" font-size="7.8" text-anchor="start" font-weight="normal" fill="#231f20" textLength="47.50" lengthAdjust="spacingAndGlyphs" >Untransduced</text>
<path d="M376.30,190.62 L378.50,194.58 L374.10,194.58Z" fill="#5aab3c"/>
<text x="381.50" y="196.00" font-size="7.8" text-anchor="start" fill="#231f20" textLength="50.50" lengthAdjust="spacingAndGlyphs" ><tspan font-size="4.84" dy="1.56">RV</tspan><tspan dy="-1.56">19BB</tspan><tspan font-size="4.84" dy="1.56">CR</tspan><tspan dy="-1.56">TCR</tspan><tspan font-size="4.29" dy="-2.96">+</tspan></text>
<path d="M444.00,190.80 L445.98,193.00 L444.00,195.20 L442.02,193.00Z" fill="#1f3f8f"/>
<text x="449.30" y="196.00" font-size="7.8" text-anchor="start" fill="#231f20" textLength="53.30" lengthAdjust="spacingAndGlyphs" ><tspan font-size="4.84" dy="1.56">RV</tspan><tspan dy="-1.56">19BB</tspan><tspan font-size="4.84" dy="1.56">CR</tspan><tspan dy="-1.56">TRBC</tspan><tspan font-size="4.29" dy="-2.96">-</tspan></text>
<line x1="312.60" y1="209.50" x2="312.60" y2="250.75" stroke="#231f20" stroke-width="1.0" />
<line x1="312.60" y1="256.60" x2="312.60" y2="303.80" stroke="#231f20" stroke-width="1.0" />
<line x1="312.10" y1="303.30" x2="499.30" y2="303.30" stroke="#231f20" stroke-width="1.0" />
<line x1="309.80" y1="250.25" x2="312.60" y2="250.25" stroke="#231f20" stroke-width="1.1" />
<text x="306.40" y="252.90" font-size="8.3" text-anchor="end" font-weight="normal" fill="#231f20" >1</text>
<line x1="309.80" y1="241.25" x2="312.60" y2="241.25" stroke="#231f20" stroke-width="1.1" />
<text x="306.40" y="243.90" font-size="8.3" text-anchor="end" font-weight="normal" fill="#231f20" >10</text>
<line x1="309.80" y1="231.50" x2="312.60" y2="231.50" stroke="#231f20" stroke-width="1.1" />
<text x="306.40" y="234.15" font-size="8.3" text-anchor="end" font-weight="normal" fill="#231f20" >20</text>
<line x1="309.80" y1="221.75" x2="312.60" y2="221.75" stroke="#231f20" stroke-width="1.1" />
<text x="306.40" y="224.40" font-size="8.3" text-anchor="end" font-weight="normal" fill="#231f20" >30</text>
<line x1="309.80" y1="212.00" x2="312.60" y2="212.00" stroke="#231f20" stroke-width="1.1" />
<text x="306.40" y="214.65" font-size="8.3" text-anchor="end" font-weight="normal" fill="#231f20" >40</text>
<line x1="309.80" y1="303.30" x2="312.60" y2="303.30" stroke="#231f20" stroke-width="1.1" />
<text x="306.40" y="305.95" font-size="8.3" text-anchor="end" font-weight="normal" fill="#231f20" >0.0</text>
<line x1="309.80" y1="294.04" x2="312.60" y2="294.04" stroke="#231f20" stroke-width="1.1" />
<text x="306.40" y="296.69" font-size="8.3" text-anchor="end" font-weight="normal" fill="#231f20" >0.2</text>
<line x1="309.80" y1="284.78" x2="312.60" y2="284.78" stroke="#231f20" stroke-width="1.1" />
<text x="306.40" y="287.43" font-size="8.3" text-anchor="end" font-weight="normal" fill="#231f20" >0.4</text>
<line x1="309.80" y1="275.52" x2="312.60" y2="275.52" stroke="#231f20" stroke-width="1.1" />
<text x="306.40" y="278.17" font-size="8.3" text-anchor="end" font-weight="normal" fill="#231f20" >0.6</text>
<line x1="309.80" y1="266.26" x2="312.60" y2="266.26" stroke="#231f20" stroke-width="1.1" />
<text x="306.40" y="268.91" font-size="8.3" text-anchor="end" font-weight="normal" fill="#231f20" >0.8</text>
<line x1="309.80" y1="257.00" x2="312.60" y2="257.00" stroke="#231f20" stroke-width="1.1" />
<text x="306.40" y="259.65" font-size="8.3" text-anchor="end" font-weight="normal" fill="#231f20" >1.0</text>
<line x1="330.20" y1="303.30" x2="330.20" y2="306.20" stroke="#231f20" stroke-width="1.1" />
<text x="330.20" y="316.25" font-size="8.3" text-anchor="middle" font-weight="normal" fill="#231f20" >3</text>
<line x1="368.30" y1="303.30" x2="368.30" y2="306.20" stroke="#231f20" stroke-width="1.1" />
<text x="368.30" y="316.25" font-size="8.3" text-anchor="middle" font-weight="normal" fill="#231f20" >10</text>
<line x1="405.60" y1="303.30" x2="405.60" y2="306.20" stroke="#231f20" stroke-width="1.1" />
<text x="405.60" y="316.25" font-size="8.3" text-anchor="middle" font-weight="normal" fill="#231f20" >24</text>
<line x1="443.30" y1="303.30" x2="443.30" y2="306.20" stroke="#231f20" stroke-width="1.1" />
<text x="443.30" y="316.25" font-size="8.3" text-anchor="middle" font-weight="normal" fill="#231f20" >37</text>
<line x1="480.20" y1="303.30" x2="480.20" y2="306.20" stroke="#231f20" stroke-width="1.1" />
<text x="480.20" y="316.25" font-size="8.3" text-anchor="middle" font-weight="normal" fill="#231f20" >50</text>
<text x="285.5" y="257.6" font-size="9.4" text-anchor="middle" fill="#231f20" transform="rotate(-90 285.5 257.6)" dy="3.3" textLength="52.7" lengthAdjust="spacingAndGlyphs">T cells in PB [%]</text>
<text x="405.80" y="329.90" font-size="9.4" text-anchor="middle" font-weight="normal" fill="#231f20" textLength="82.50" lengthAdjust="spacingAndGlyphs" >Days post T cell injection</text>
<line x1="320.20" y1="231.70" x2="342.00" y2="231.70" stroke="#5e5f63" stroke-width="1.3" />
<text x="331.10" y="231.50" font-size="8.6" text-anchor="middle" font-weight="normal" fill="#231f20" textLength="6.20" lengthAdjust="spacingAndGlyphs" >**</text>
<line x1="320.20" y1="240.10" x2="329.80" y2="240.10" stroke="#5e5f63" stroke-width="1.3" />
<text x="325.00" y="239.90" font-size="8.6" text-anchor="middle" font-weight="normal" fill="#231f20" textLength="6.20" lengthAdjust="spacingAndGlyphs" >**</text>
<line x1="333.00" y1="240.10" x2="342.00" y2="240.10" stroke="#5e5f63" stroke-width="1.3" />
<text x="337.50" y="239.90" font-size="8.6" text-anchor="middle" font-weight="normal" fill="#231f20" textLength="6.20" lengthAdjust="spacingAndGlyphs" >**</text>
<line x1="356.30" y1="231.70" x2="378.30" y2="231.70" stroke="#5e5f63" stroke-width="1.3" />
<text x="367.30" y="231.50" font-size="8.6" text-anchor="middle" font-weight="normal" fill="#231f20" textLength="3.00" lengthAdjust="spacingAndGlyphs" >*</text>
<line x1="356.30" y1="240.10" x2="365.00" y2="240.10" stroke="#5e5f63" stroke-width="1.3" />
<text x="360.65" y="239.90" font-size="8.6" text-anchor="middle" font-weight="normal" fill="#231f20" textLength="3.00" lengthAdjust="spacingAndGlyphs" >*</text>
<line x1="368.00" y1="240.10" x2="378.30" y2="240.10" stroke="#5e5f63" stroke-width="1.3" />
<text x="373.20" y="238.30" font-size="7.6" text-anchor="middle" font-weight="normal" fill="#231f20" textLength="10.00" lengthAdjust="spacingAndGlyphs" >n.s.</text>
<line x1="407.00" y1="217.30" x2="415.80" y2="217.30" stroke="#5e5f63" stroke-width="1.3" />
<text x="411.40" y="217.10" font-size="8.6" text-anchor="middle" font-weight="normal" fill="#231f20" textLength="6.20" lengthAdjust="spacingAndGlyphs" >**</text>
<circle cx="318.30" cy="249.30" r="2.2" fill="#4b5168"/>
<circle cx="320.80" cy="249.30" r="2.2" fill="#4b5168"/>
<circle cx="319.60" cy="249.80" r="2.2" fill="#4b5168"/>
<line x1="315.50" y1="249.50" x2="323.50" y2="249.50" stroke="#111" stroke-width="1.25" />
<path d="M330.20,248.62 L332.40,252.58 L328.00,252.58Z" fill="#5aab3c"/>
<path d="M329.00,268.42 L331.20,272.38 L326.80,272.38Z" fill="#5aab3c"/>
<path d="M331.50,272.82 L333.70,276.78 L329.30,276.78Z" fill="#5aab3c"/>
<path d="M328.50,275.52 L330.70,279.48 L326.30,279.48Z" fill="#5aab3c"/>
<path d="M331.00,278.62 L333.20,282.58 L328.80,282.58Z" fill="#5aab3c"/>
<path d="M330.50,284.32 L332.70,288.28 L328.30,288.28Z" fill="#5aab3c"/>
<line x1="324.80" y1="274.60" x2="335.80" y2="274.60" stroke="#111" stroke-width="1.25" />
<path d="M340.40,248.00 L342.38,250.20 L340.40,252.40 L338.42,250.20Z" fill="#1f3f8f"/>
<path d="M342.70,248.00 L344.68,250.20 L342.70,252.40 L340.72,250.20Z" fill="#1f3f8f"/>
<path d="M341.30,261.80 L343.28,264.00 L341.30,266.20 L339.32,264.00Z" fill="#1f3f8f"/>
<line x1="336.60" y1="250.20" x2="346.60" y2="250.20" stroke="#111" stroke-width="1.25" />
<circle cx="356.70" cy="250.60" r="2.2" fill="#4b5168"/>
<circle cx="356.20" cy="282.00" r="2.2" fill="#4b5168"/>
<circle cx="357.30" cy="284.80" r="2.2" fill="#4b5168"/>
<circle cx="358.70" cy="290.40" r="2.2" fill="#4b5168"/>
<circle cx="355.40" cy="294.40" r="2.2" fill="#4b5168"/>
<circle cx="358.30" cy="299.60" r="2.2" fill="#4b5168"/>
<line x1="352.40" y1="283.60" x2="361.40" y2="283.60" stroke="#111" stroke-width="1.25" />
<path d="M367.70,292.62 L369.90,296.58 L365.50,296.58Z" fill="#5aab3c"/>
<path d="M368.50,295.12 L370.70,299.08 L366.30,299.08Z" fill="#5aab3c"/>
<path d="M366.80,297.12 L369.00,301.08 L364.60,301.08Z" fill="#5aab3c"/>
<path d="M369.00,298.62 L371.20,302.58 L366.80,302.58Z" fill="#5aab3c"/>
<path d="M367.50,299.62 L369.70,303.58 L365.30,303.58Z" fill="#5aab3c"/>
<line x1="363.45" y1="297.30" x2="372.95" y2="297.30" stroke="#111" stroke-width="1.25" />
<path d="M378.80,295.30 L380.78,297.50 L378.80,299.70 L376.82,297.50Z" fill="#1f3f8f"/>
<path d="M380.00,297.30 L381.98,299.50 L380.00,301.70 L378.02,299.50Z" fill="#1f3f8f"/>
<path d="M377.50,298.80 L379.48,301.00 L377.50,303.20 L375.52,301.00Z" fill="#1f3f8f"/>
<path d="M379.00,300.30 L380.98,302.50 L379.00,304.70 L377.02,302.50Z" fill="#1f3f8f"/>
<line x1="374.00" y1="299.60" x2="384.00" y2="299.60" stroke="#111" stroke-width="1.25" />
<path d="M405.60,221.32 L407.80,225.28 L403.40,225.28Z" fill="#5aab3c"/>
<path d="M405.60,238.02 L407.80,241.98 L403.40,241.98Z" fill="#5aab3c"/>
<path d="M406.60,240.62 L408.80,244.58 L404.40,244.58Z" fill="#5aab3c"/>
<path d="M404.60,246.12 L406.80,250.08 L402.40,250.08Z" fill="#5aab3c"/>
<path d="M406.60,247.42 L408.80,251.38 L404.40,251.38Z" fill="#5aab3c"/>
<line x1="400.10" y1="242.30" x2="411.10" y2="242.30" stroke="#111" stroke-width="1.25" />
<circle cx="415.50" cy="303.10" r="2.2" fill="#1f3f8f"/>
<circle cx="417.50" cy="303.10" r="2.2" fill="#1f3f8f"/>
<path d="M443.30,231.32 L445.50,235.28 L441.10,235.28Z" fill="#5aab3c"/>
<path d="M442.30,238.02 L444.50,241.98 L440.10,241.98Z" fill="#5aab3c"/>
<path d="M444.30,243.42 L446.50,247.38 L442.10,247.38Z" fill="#5aab3c"/>
<path d="M443.80,246.12 L446.00,250.08 L441.60,250.08Z" fill="#5aab3c"/>
<line x1="437.30" y1="242.50" x2="448.70" y2="242.50" stroke="#111" stroke-width="1.25" />
<path d="M479.60,239.32 L481.80,243.28 L477.40,243.28Z" fill="#5aab3c"/>
<path d="M482.00,240.62 L484.20,244.58 L479.80,244.58Z" fill="#5aab3c"/>
<line x1="475.60" y1="241.70" x2="485.80" y2="241.70" stroke="#111" stroke-width="1.25" />
<line x1="53.80" y1="376.30" x2="53.80" y2="469.30" stroke="#231f20" stroke-width="1.2" />
<line x1="53.20" y1="468.70" x2="133.30" y2="468.70" stroke="#231f20" stroke-width="1.2" />
<line x1="51.10" y1="468.70" x2="53.90" y2="468.70" stroke="#231f20" stroke-width="1.1" />
<text x="47.70" y="471.35" font-size="8.3" text-anchor="end" font-weight="normal" fill="#231f20" >0</text>
<line x1="51.10" y1="450.77" x2="53.90" y2="450.77" stroke="#231f20" stroke-width="1.1" />
<text x="47.70" y="453.42" font-size="8.3" text-anchor="end" font-weight="normal" fill="#231f20" >20</text>
<line x1="51.10" y1="432.84" x2="53.90" y2="432.84" stroke="#231f20" stroke-width="1.1" />
<text x="47.70" y="435.49" font-size="8.3" text-anchor="end" font-weight="normal" fill="#231f20" >40</text>
<line x1="51.10" y1="414.91" x2="53.90" y2="414.91" stroke="#231f20" stroke-width="1.1" />
<text x="47.70" y="417.56" font-size="8.3" text-anchor="end" font-weight="normal" fill="#231f20" >60</text>
<line x1="51.10" y1="396.98" x2="53.90" y2="396.98" stroke="#231f20" stroke-width="1.1" />
<text x="47.70" y="399.63" font-size="8.3" text-anchor="end" font-weight="normal" fill="#231f20" >80</text>
<line x1="51.10" y1="379.05" x2="53.90" y2="379.05" stroke="#231f20" stroke-width="1.1" />
<text x="47.70" y="381.70" font-size="8.3" text-anchor="end" font-weight="normal" fill="#231f20" >100</text>
<line x1="69.60" y1="468.70" x2="69.60" y2="471.60" stroke="#231f20" stroke-width="1.1" />
<line x1="93.60" y1="468.70" x2="93.60" y2="471.60" stroke="#231f20" stroke-width="1.1" />
<line x1="117.60" y1="468.70" x2="117.60" y2="471.60" stroke="#231f20" stroke-width="1.1" />
<rect x="62.5" y="379.05" width="14.2" height="89.65" fill="#e9b923"/>
<rect x="86.4" y="379.05" width="14.6" height="89.65" fill="#e9b923"/>
<rect x="86.4" y="379.05" width="14.6" height="49.31" fill="#a1002d"/>
<rect x="110.4" y="379.05" width="14.3" height="89.65" fill="#e9b923"/>
<text x="24.8" y="421.7" font-size="9.4" text-anchor="middle" fill="#231f20" transform="rotate(-90 24.8 421.7)" dy="3.3" textLength="68" lengthAdjust="spacingAndGlyphs">Reason of death [%]</text>
<rect x="137.5" y="409.5" width="7.5" height="4.3" fill="#e9b923"/>
<rect x="137.5" y="430.8" width="7.5" height="4.7" fill="#a1002d"/>
<text x="148.80" y="414.00" font-size="7.8" text-anchor="start" font-weight="normal" fill="#231f20" textLength="81.20" lengthAdjust="spacingAndGlyphs" >Leukemia-related death</text>
<text x="148.80" y="435.70" font-size="7.8" text-anchor="start" font-weight="normal" fill="#231f20" textLength="98.70" lengthAdjust="spacingAndGlyphs" >Non-Leukemia-related death</text>
<text x="0.00" y="0.00" font-size="8.5" text-anchor="end" font-weight="normal" fill="#231f20" textLength="52.00" lengthAdjust="spacingAndGlyphs" transform="translate(72.6,478.3) rotate(-45)">Untransduced</text>
<text x="0.00" y="0.00" font-size="8.5" text-anchor="end" fill="#231f20" textLength="53.00" lengthAdjust="spacingAndGlyphs" transform="translate(96.0,479.6) rotate(-45)"><tspan font-size="5.27" dy="1.70">RV</tspan><tspan dy="-1.70">19BB</tspan><tspan font-size="5.27" dy="1.70">CR</tspan><tspan dy="-1.70">TCR</tspan><tspan font-size="4.68" dy="-3.23">+</tspan></text>
<text x="0.00" y="0.00" font-size="8.5" text-anchor="end" fill="#231f20" textLength="57.00" lengthAdjust="spacingAndGlyphs" transform="translate(120.2,479.8) rotate(-45)"><tspan font-size="5.27" dy="1.70">RV</tspan><tspan dy="-1.70">19BB</tspan><tspan font-size="5.27" dy="1.70">CR</tspan><tspan dy="-1.70">TRBC</tspan><tspan font-size="4.68" dy="-3.23">-</tspan></text>
<polyline points="304.50,359.60 313.80,359.60" fill="none" stroke="#4b5168" stroke-width="1.3" stroke-linejoin="round" />
<circle cx="309.10" cy="359.60" r="2.1" fill="#4b5168"/>
<text x="317.00" y="362.40" font-size="7.8" text-anchor="start" font-weight="normal" fill="#231f20" textLength="47.50" lengthAdjust="spacingAndGlyphs" >Untransduced</text>
<polyline points="374.80,359.80 384.00,359.80" fill="none" stroke="#5aab3c" stroke-width="1.3" stroke-linejoin="round" />
<path d="M379.40,357.64 L381.40,361.24 L377.40,361.24Z" fill="#5aab3c"/>
<text x="387.70" y="362.80" font-size="7.8" text-anchor="start" fill="#231f20" textLength="50.80" lengthAdjust="spacingAndGlyphs" ><tspan font-size="4.84" dy="1.56">RV</tspan><tspan dy="-1.56">19BB</tspan><tspan font-size="4.84" dy="1.56">CR</tspan><tspan dy="-1.56">TCR</tspan><tspan font-size="4.29" dy="-2.96">+</tspan></text>
<polyline points="447.70,359.80 457.00,359.80" fill="none" stroke="#1f3f8f" stroke-width="1.3" stroke-linejoin="round" />
<path d="M452.30,357.60 L454.28,359.80 L452.30,362.00 L450.32,359.80Z" fill="#1f3f8f"/>
<text x="459.40" y="362.80" font-size="7.8" text-anchor="start" fill="#231f20" textLength="53.60" lengthAdjust="spacingAndGlyphs" ><tspan font-size="4.84" dy="1.56">RV</tspan><tspan dy="-1.56">19BB</tspan><tspan font-size="4.84" dy="1.56">CR</tspan><tspan dy="-1.56">TRBC</tspan><tspan font-size="4.29" dy="-2.96">-</tspan></text>
<line x1="312.60" y1="375.80" x2="312.60" y2="469.70" stroke="#231f20" stroke-width="1.0" />
<line x1="312.10" y1="469.20" x2="503.00" y2="469.20" stroke="#231f20" stroke-width="1.0" />
<line x1="309.80" y1="469.25" x2="312.60" y2="469.25" stroke="#231f20" stroke-width="1.1" />
<text x="306.40" y="471.90" font-size="8.3" text-anchor="end" font-weight="normal" fill="#231f20" >90</text>
<line x1="309.80" y1="438.75" x2="312.60" y2="438.75" stroke="#231f20" stroke-width="1.1" />
<text x="306.40" y="441.40" font-size="8.3" text-anchor="end" font-weight="normal" fill="#231f20" >100</text>
<line x1="309.80" y1="408.25" x2="312.60" y2="408.25" stroke="#231f20" stroke-width="1.1" />
<text x="306.40" y="410.90" font-size="8.3" text-anchor="end" font-weight="normal" fill="#231f20" >110</text>
<line x1="309.80" y1="377.75" x2="312.60" y2="377.75" stroke="#231f20" stroke-width="1.1" />
<text x="306.40" y="380.40" font-size="8.3" text-anchor="end" font-weight="normal" fill="#231f20" >120</text>
<line x1="313.00" y1="469.20" x2="313.00" y2="472.10" stroke="#231f20" stroke-width="1.1" />
<text x="313.00" y="482.15" font-size="8.3" text-anchor="middle" font-weight="normal" fill="#231f20" >0</text>
<line x1="350.45" y1="469.20" x2="350.45" y2="472.10" stroke="#231f20" stroke-width="1.1" />
<text x="350.45" y="482.15" font-size="8.3" text-anchor="middle" font-weight="normal" fill="#231f20" >10</text>
<line x1="387.90" y1="469.20" x2="387.90" y2="472.10" stroke="#231f20" stroke-width="1.1" />
<text x="387.90" y="482.15" font-size="8.3" text-anchor="middle" font-weight="normal" fill="#231f20" >20</text>
<line x1="425.35" y1="469.20" x2="425.35" y2="472.10" stroke="#231f20" stroke-width="1.1" />
<text x="425.35" y="482.15" font-size="8.3" text-anchor="middle" font-weight="normal" fill="#231f20" >30</text>
<line x1="462.80" y1="469.20" x2="462.80" y2="472.10" stroke="#231f20" stroke-width="1.1" />
<text x="462.80" y="482.15" font-size="8.3" text-anchor="middle" font-weight="normal" fill="#231f20" >40</text>
<line x1="500.25" y1="469.20" x2="500.25" y2="472.10" stroke="#231f20" stroke-width="1.1" />
<text x="500.25" y="482.15" font-size="8.3" text-anchor="middle" font-weight="normal" fill="#231f20" >50</text>
<text x="283.5" y="420.0" font-size="9.4" text-anchor="middle" fill="#231f20" transform="rotate(-90 283.5 420.0)" dy="3.3" textLength="86.5" lengthAdjust="spacingAndGlyphs">Change of bodyweight [%]</text>
<text x="408.40" y="495.40" font-size="9.4" text-anchor="middle" font-weight="normal" fill="#231f20" textLength="82.00" lengthAdjust="spacingAndGlyphs" >Days post T cell injection</text>
<polyline points="316.75,438.75 324.24,432.65 327.98,426.55 339.21,420.45 346.70,417.40 365.43,420.45 372.92,414.35 380.41,414.35 391.64,417.40 399.13,411.30 406.62,423.50 421.61,408.86 432.84,412.52 444.08,412.52 459.06,411.76 470.29,410.08 477.78,413.74 485.27,402.15" fill="none" stroke="#5aab3c" stroke-width="1.3" stroke-linejoin="round" />
<path d="M316.75,436.59 L318.75,440.19 L314.75,440.19Z" fill="#5aab3c"/>
<path d="M324.24,430.49 L326.24,434.09 L322.24,434.09Z" fill="#5aab3c"/>
<path d="M327.98,424.39 L329.98,427.99 L325.98,427.99Z" fill="#5aab3c"/>
<path d="M339.21,418.29 L341.21,421.89 L337.21,421.89Z" fill="#5aab3c"/>
<path d="M346.70,415.24 L348.70,418.84 L344.70,418.84Z" fill="#5aab3c"/>
<path d="M365.43,418.29 L367.43,421.89 L363.43,421.89Z" fill="#5aab3c"/>
<path d="M372.92,412.19 L374.92,415.79 L370.92,415.79Z" fill="#5aab3c"/>
<path d="M380.41,412.19 L382.41,415.79 L378.41,415.79Z" fill="#5aab3c"/>
<path d="M391.64,415.24 L393.64,418.84 L389.64,418.84Z" fill="#5aab3c"/>
<path d="M399.13,409.14 L401.13,412.74 L397.13,412.74Z" fill="#5aab3c"/>
<path d="M406.62,421.34 L408.62,424.94 L404.62,424.94Z" fill="#5aab3c"/>
<path d="M421.61,406.70 L423.61,410.30 L419.61,410.30Z" fill="#5aab3c"/>
<path d="M432.84,410.36 L434.84,413.96 L430.84,413.96Z" fill="#5aab3c"/>
<path d="M444.08,410.36 L446.08,413.96 L442.08,413.96Z" fill="#5aab3c"/>
<path d="M459.06,409.60 L461.06,413.20 L457.06,413.20Z" fill="#5aab3c"/>
<path d="M470.29,407.92 L472.29,411.52 L468.29,411.52Z" fill="#5aab3c"/>
<path d="M477.78,411.58 L479.78,415.18 L475.78,415.18Z" fill="#5aab3c"/>
<path d="M485.27,399.99 L487.27,403.59 L483.27,403.59Z" fill="#5aab3c"/>
<polyline points="316.75,438.75 324.24,435.70 327.98,432.65 339.21,429.60 346.70,426.55 365.43,426.55 372.92,423.50 380.41,420.45 391.64,423.50 399.13,420.45 406.62,429.60 421.61,420.45 432.84,426.55 444.08,426.25 459.06,424.26 470.29,414.96 477.78,413.74 485.27,407.64" fill="none" stroke="#5aab3c" stroke-width="1.3" stroke-linejoin="round" />
<path d="M316.75,436.59 L318.75,440.19 L314.75,440.19Z" fill="#5aab3c"/>
<path d="M324.24,433.54 L326.24,437.14 L322.24,437.14Z" fill="#5aab3c"/>
<path d="M327.98,430.49 L329.98,434.09 L325.98,434.09Z" fill="#5aab3c"/>
<path d="M339.21,427.44 L341.21,431.04 L337.21,431.04Z" fill="#5aab3c"/>
<path d="M346.70,424.39 L348.70,427.99 L344.70,427.99Z" fill="#5aab3c"/>
<path d="M365.43,424.39 L367.43,427.99 L363.43,427.99Z" fill="#5aab3c"/>
<path d="M372.92,421.34 L374.92,424.94 L370.92,424.94Z" fill="#5aab3c"/>
<path d="M380.41,418.29 L382.41,421.89 L378.41,421.89Z" fill="#5aab3c"/>
<path d="M391.64,421.34 L393.64,424.94 L389.64,424.94Z" fill="#5aab3c"/>
<path d="M399.13,418.29 L401.13,421.89 L397.13,421.89Z" fill="#5aab3c"/>
<path d="M406.62,427.44 L408.62,431.04 L404.62,431.04Z" fill="#5aab3c"/>
<path d="M421.61,418.29 L423.61,421.89 L419.61,421.89Z" fill="#5aab3c"/>
<path d="M432.84,424.39 L434.84,427.99 L430.84,427.99Z" fill="#5aab3c"/>
<path d="M444.08,424.08 L446.08,427.69 L442.08,427.69Z" fill="#5aab3c"/>
<path d="M459.06,422.10 L461.06,425.70 L457.06,425.70Z" fill="#5aab3c"/>
<path d="M470.29,412.80 L472.29,416.40 L468.29,416.40Z" fill="#5aab3c"/>
<path d="M477.78,411.58 L479.78,415.18 L475.78,415.18Z" fill="#5aab3c"/>
<path d="M485.27,405.48 L487.27,409.08 L483.27,409.08Z" fill="#5aab3c"/>
<polyline points="316.75,438.75 324.24,441.80 327.98,443.32 339.21,441.80 346.70,440.27 365.43,438.75 372.92,432.65 380.41,432.65 391.64,435.70 399.13,435.70 406.62,441.80 421.61,426.55 432.84,429.60 444.08,423.50 459.06,432.65 470.29,436.31 477.78,435.70 485.27,426.85" fill="none" stroke="#5aab3c" stroke-width="1.3" stroke-linejoin="round" />
<path d="M316.75,436.59 L318.75,440.19 L314.75,440.19Z" fill="#5aab3c"/>
<path d="M324.24,439.64 L326.24,443.24 L322.24,443.24Z" fill="#5aab3c"/>
<path d="M327.98,441.16 L329.98,444.76 L325.98,444.76Z" fill="#5aab3c"/>
<path d="M339.21,439.64 L341.21,443.24 L337.21,443.24Z" fill="#5aab3c"/>
<path d="M346.70,438.11 L348.70,441.71 L344.70,441.71Z" fill="#5aab3c"/>
<path d="M365.43,436.59 L367.43,440.19 L363.43,440.19Z" fill="#5aab3c"/>
<path d="M372.92,430.49 L374.92,434.09 L370.92,434.09Z" fill="#5aab3c"/>
<path d="M380.41,430.49 L382.41,434.09 L378.41,434.09Z" fill="#5aab3c"/>
<path d="M391.64,433.54 L393.64,437.14 L389.64,437.14Z" fill="#5aab3c"/>
<path d="M399.13,433.54 L401.13,437.14 L397.13,437.14Z" fill="#5aab3c"/>
<path d="M406.62,439.64 L408.62,443.24 L404.62,443.24Z" fill="#5aab3c"/>
<path d="M421.61,424.39 L423.61,427.99 L419.61,427.99Z" fill="#5aab3c"/>
<path d="M432.84,427.44 L434.84,431.04 L430.84,431.04Z" fill="#5aab3c"/>
<path d="M444.08,421.34 L446.08,424.94 L442.08,424.94Z" fill="#5aab3c"/>
<path d="M459.06,430.49 L461.06,434.09 L457.06,434.09Z" fill="#5aab3c"/>
<path d="M470.29,434.15 L472.29,437.75 L468.29,437.75Z" fill="#5aab3c"/>
<path d="M477.78,433.54 L479.78,437.14 L475.78,437.14Z" fill="#5aab3c"/>
<path d="M485.27,424.69 L487.27,428.29 L483.27,428.29Z" fill="#5aab3c"/>
<polyline points="316.75,438.75 324.24,441.80 327.98,443.32 339.21,443.32 346.70,441.80 365.43,441.80 372.92,438.75 380.41,438.75 391.64,438.75 399.13,441.80 406.62,447.90 421.61,438.75 432.84,454.91 444.08,453.69 459.06,462.54 470.29,461.32 477.78,463.76" fill="none" stroke="#5aab3c" stroke-width="1.3" stroke-linejoin="round" />
<path d="M316.75,436.59 L318.75,440.19 L314.75,440.19Z" fill="#5aab3c"/>
<path d="M324.24,439.64 L326.24,443.24 L322.24,443.24Z" fill="#5aab3c"/>
<path d="M327.98,441.16 L329.98,444.76 L325.98,444.76Z" fill="#5aab3c"/>
<path d="M339.21,441.16 L341.21,444.76 L337.21,444.76Z" fill="#5aab3c"/>
<path d="M346.70,439.64 L348.70,443.24 L344.70,443.24Z" fill="#5aab3c"/>
<path d="M365.43,439.64 L367.43,443.24 L363.43,443.24Z" fill="#5aab3c"/>
<path d="M372.92,436.59 L374.92,440.19 L370.92,440.19Z" fill="#5aab3c"/>
<path d="M380.41,436.59 L382.41,440.19 L378.41,440.19Z" fill="#5aab3c"/>
<path d="M391.64,436.59 L393.64,440.19 L389.64,440.19Z" fill="#5aab3c"/>
<path d="M399.13,439.64 L401.13,443.24 L397.13,443.24Z" fill="#5aab3c"/>
<path d="M406.62,445.74 L408.62,449.34 L404.62,449.34Z" fill="#5aab3c"/>
<path d="M421.61,436.59 L423.61,440.19 L419.61,440.19Z" fill="#5aab3c"/>
<path d="M432.84,452.75 L434.84,456.35 L430.84,456.35Z" fill="#5aab3c"/>
<path d="M444.08,451.53 L446.08,455.13 L442.08,455.13Z" fill="#5aab3c"/>
<path d="M459.06,460.38 L461.06,463.98 L457.06,463.98Z" fill="#5aab3c"/>
<path d="M470.29,459.16 L472.29,462.76 L468.29,462.76Z" fill="#5aab3c"/>
<path d="M477.78,461.60 L479.78,465.20 L475.78,465.20Z" fill="#5aab3c"/>
<polyline points="316.75,438.75 324.24,438.75 327.98,441.80 339.21,443.32 346.70,441.80 365.43,441.80 372.92,441.80 380.41,441.80 391.64,438.75 399.13,441.80 406.62,444.85 421.61,441.80 432.84,441.19 444.08,442.10 459.06,441.80 470.29,442.10 477.78,440.88 485.27,429.90" fill="none" stroke="#5aab3c" stroke-width="1.3" stroke-linejoin="round" />
<path d="M316.75,436.59 L318.75,440.19 L314.75,440.19Z" fill="#5aab3c"/>
<path d="M324.24,436.59 L326.24,440.19 L322.24,440.19Z" fill="#5aab3c"/>
<path d="M327.98,439.64 L329.98,443.24 L325.98,443.24Z" fill="#5aab3c"/>
<path d="M339.21,441.16 L341.21,444.76 L337.21,444.76Z" fill="#5aab3c"/>
<path d="M346.70,439.64 L348.70,443.24 L344.70,443.24Z" fill="#5aab3c"/>
<path d="M365.43,439.64 L367.43,443.24 L363.43,443.24Z" fill="#5aab3c"/>
<path d="M372.92,439.64 L374.92,443.24 L370.92,443.24Z" fill="#5aab3c"/>
<path d="M380.41,439.64 L382.41,443.24 L378.41,443.24Z" fill="#5aab3c"/>
<path d="M391.64,436.59 L393.64,440.19 L389.64,440.19Z" fill="#5aab3c"/>
<path d="M399.13,439.64 L401.13,443.24 L397.13,443.24Z" fill="#5aab3c"/>
<path d="M406.62,442.69 L408.62,446.29 L404.62,446.29Z" fill="#5aab3c"/>
<path d="M421.61,439.64 L423.61,443.24 L419.61,443.24Z" fill="#5aab3c"/>
<path d="M432.84,439.03 L434.84,442.63 L430.84,442.63Z" fill="#5aab3c"/>
<path d="M444.08,439.94 L446.08,443.54 L442.08,443.54Z" fill="#5aab3c"/>
<path d="M459.06,439.64 L461.06,443.24 L457.06,443.24Z" fill="#5aab3c"/>
<path d="M470.29,439.94 L472.29,443.54 L468.29,443.54Z" fill="#5aab3c"/>
<path d="M477.78,438.72 L479.78,442.32 L475.78,442.32Z" fill="#5aab3c"/>
<path d="M485.27,427.74 L487.27,431.34 L483.27,431.34Z" fill="#5aab3c"/>
<polyline points="316.75,438.75 320.49,432.65 324.24,429.60 327.98,429.60 339.21,420.45 346.70,412.52 365.43,400.32 372.92,405.20 380.41,406.42 391.64,410.38 399.13,401.24 406.62,414.35 421.61,405.20 432.84,423.50 444.08,420.45" fill="none" stroke="#1f3f8f" stroke-width="1.3" stroke-linejoin="round" />
<path d="M316.75,436.55 L318.73,438.75 L316.75,440.95 L314.76,438.75Z" fill="#1f3f8f"/>
<path d="M320.49,430.45 L322.47,432.65 L320.49,434.85 L318.51,432.65Z" fill="#1f3f8f"/>
<path d="M324.24,427.40 L326.22,429.60 L324.24,431.80 L322.25,429.60Z" fill="#1f3f8f"/>
<path d="M327.98,427.40 L329.96,429.60 L327.98,431.80 L326.00,429.60Z" fill="#1f3f8f"/>
<path d="M339.21,418.25 L341.19,420.45 L339.21,422.65 L337.23,420.45Z" fill="#1f3f8f"/>
<path d="M346.70,410.32 L348.69,412.52 L346.70,414.72 L344.72,412.52Z" fill="#1f3f8f"/>
<path d="M365.43,398.12 L367.41,400.32 L365.43,402.52 L363.45,400.32Z" fill="#1f3f8f"/>
<path d="M372.92,403.00 L374.90,405.20 L372.92,407.40 L370.94,405.20Z" fill="#1f3f8f"/>
<path d="M380.41,404.22 L382.39,406.42 L380.41,408.62 L378.43,406.42Z" fill="#1f3f8f"/>
<path d="M391.64,408.19 L393.62,410.38 L391.64,412.58 L389.66,410.38Z" fill="#1f3f8f"/>
<path d="M399.13,399.04 L401.12,401.24 L399.13,403.44 L397.15,401.24Z" fill="#1f3f8f"/>
<path d="M406.62,412.15 L408.61,414.35 L406.62,416.55 L404.64,414.35Z" fill="#1f3f8f"/>
<path d="M421.61,403.00 L423.59,405.20 L421.61,407.40 L419.62,405.20Z" fill="#1f3f8f"/>
<path d="M432.84,421.30 L434.82,423.50 L432.84,425.70 L430.86,423.50Z" fill="#1f3f8f"/>
<path d="M444.08,418.25 L446.06,420.45 L444.08,422.65 L442.10,420.45Z" fill="#1f3f8f"/>
<polyline points="316.75,438.75 320.49,435.70 324.24,432.65 327.98,432.65 339.21,435.70 346.70,438.75 365.43,448.51 372.92,445.15 380.41,448.51 391.64,448.81 399.13,451.25 406.62,455.52 421.61,444.85" fill="none" stroke="#1f3f8f" stroke-width="1.3" stroke-linejoin="round" />
<path d="M316.75,436.55 L318.73,438.75 L316.75,440.95 L314.76,438.75Z" fill="#1f3f8f"/>
<path d="M320.49,433.50 L322.47,435.70 L320.49,437.90 L318.51,435.70Z" fill="#1f3f8f"/>
<path d="M324.24,430.45 L326.22,432.65 L324.24,434.85 L322.25,432.65Z" fill="#1f3f8f"/>
<path d="M327.98,430.45 L329.96,432.65 L327.98,434.85 L326.00,432.65Z" fill="#1f3f8f"/>
<path d="M339.21,433.50 L341.19,435.70 L339.21,437.90 L337.23,435.70Z" fill="#1f3f8f"/>
<path d="M346.70,436.55 L348.69,438.75 L346.70,440.95 L344.72,438.75Z" fill="#1f3f8f"/>
<path d="M365.43,446.31 L367.41,448.51 L365.43,450.71 L363.45,448.51Z" fill="#1f3f8f"/>
<path d="M372.92,442.95 L374.90,445.15 L372.92,447.35 L370.94,445.15Z" fill="#1f3f8f"/>
<path d="M380.41,446.31 L382.39,448.51 L380.41,450.71 L378.43,448.51Z" fill="#1f3f8f"/>
<path d="M391.64,446.62 L393.62,448.81 L391.64,451.01 L389.66,448.81Z" fill="#1f3f8f"/>
<path d="M399.13,449.06 L401.12,451.25 L399.13,453.45 L397.15,451.25Z" fill="#1f3f8f"/>
<path d="M406.62,453.32 L408.61,455.52 L406.62,457.72 L404.64,455.52Z" fill="#1f3f8f"/>
<path d="M421.61,442.65 L423.59,444.85 L421.61,447.05 L419.62,444.85Z" fill="#1f3f8f"/>
<polyline points="316.75,438.75 320.49,429.60 324.24,423.50 327.98,426.55 339.21,426.55 346.70,423.50 365.43,426.55 372.92,423.50 380.41,426.55 391.64,423.50 399.13,429.60 406.62,435.70 421.61,420.45" fill="none" stroke="#1f3f8f" stroke-width="1.3" stroke-linejoin="round" />
<path d="M316.75,436.55 L318.73,438.75 L316.75,440.95 L314.76,438.75Z" fill="#1f3f8f"/>
<path d="M320.49,427.40 L322.47,429.60 L320.49,431.80 L318.51,429.60Z" fill="#1f3f8f"/>
<path d="M324.24,421.30 L326.22,423.50 L324.24,425.70 L322.25,423.50Z" fill="#1f3f8f"/>
<path d="M327.98,424.35 L329.96,426.55 L327.98,428.75 L326.00,426.55Z" fill="#1f3f8f"/>
<path d="M339.21,424.35 L341.19,426.55 L339.21,428.75 L337.23,426.55Z" fill="#1f3f8f"/>
<path d="M346.70,421.30 L348.69,423.50 L346.70,425.70 L344.72,423.50Z" fill="#1f3f8f"/>
<path d="M365.43,424.35 L367.41,426.55 L365.43,428.75 L363.45,426.55Z" fill="#1f3f8f"/>
<path d="M372.92,421.30 L374.90,423.50 L372.92,425.70 L370.94,423.50Z" fill="#1f3f8f"/>
<path d="M380.41,424.35 L382.39,426.55 L380.41,428.75 L378.43,426.55Z" fill="#1f3f8f"/>
<path d="M391.64,421.30 L393.62,423.50 L391.64,425.70 L389.66,423.50Z" fill="#1f3f8f"/>
<path d="M399.13,427.40 L401.12,429.60 L399.13,431.80 L397.15,429.60Z" fill="#1f3f8f"/>
<path d="M406.62,433.50 L408.61,435.70 L406.62,437.90 L404.64,435.70Z" fill="#1f3f8f"/>
<path d="M421.61,418.25 L423.59,420.45 L421.61,422.65 L419.62,420.45Z" fill="#1f3f8f"/>
<polyline points="316.75,438.75 320.49,441.80 324.24,441.80 327.98,443.32 339.21,441.80 346.70,438.75 365.43,444.85 372.92,444.85 380.41,441.80 391.64,444.85 399.13,447.90 406.62,450.95 421.61,441.80" fill="none" stroke="#1f3f8f" stroke-width="1.3" stroke-linejoin="round" />
<path d="M316.75,436.55 L318.73,438.75 L316.75,440.95 L314.76,438.75Z" fill="#1f3f8f"/>
<path d="M320.49,439.60 L322.47,441.80 L320.49,444.00 L318.51,441.80Z" fill="#1f3f8f"/>
<path d="M324.24,439.60 L326.22,441.80 L324.24,444.00 L322.25,441.80Z" fill="#1f3f8f"/>
<path d="M327.98,441.12 L329.96,443.32 L327.98,445.52 L326.00,443.32Z" fill="#1f3f8f"/>
<path d="M339.21,439.60 L341.19,441.80 L339.21,444.00 L337.23,441.80Z" fill="#1f3f8f"/>
<path d="M346.70,436.55 L348.69,438.75 L346.70,440.95 L344.72,438.75Z" fill="#1f3f8f"/>
<path d="M365.43,442.65 L367.41,444.85 L365.43,447.05 L363.45,444.85Z" fill="#1f3f8f"/>
<path d="M372.92,442.65 L374.90,444.85 L372.92,447.05 L370.94,444.85Z" fill="#1f3f8f"/>
<path d="M380.41,439.60 L382.39,441.80 L380.41,444.00 L378.43,441.80Z" fill="#1f3f8f"/>
<path d="M391.64,442.65 L393.62,444.85 L391.64,447.05 L389.66,444.85Z" fill="#1f3f8f"/>
<path d="M399.13,445.70 L401.12,447.90 L399.13,450.10 L397.15,447.90Z" fill="#1f3f8f"/>
<path d="M406.62,448.75 L408.61,450.95 L406.62,453.15 L404.64,450.95Z" fill="#1f3f8f"/>
<path d="M421.61,439.60 L423.59,441.80 L421.61,444.00 L419.62,441.80Z" fill="#1f3f8f"/>
<polyline points="316.75,438.75 320.49,432.65 324.24,429.60 327.98,429.60 339.21,426.55 346.70,423.50 365.43,432.65 372.92,429.60 380.41,432.65 391.64,435.70 399.13,438.75 406.62,444.85 421.61,429.60 432.84,429.60 444.08,426.55" fill="none" stroke="#1f3f8f" stroke-width="1.3" stroke-linejoin="round" />
<path d="M316.75,436.55 L318.73,438.75 L316.75,440.95 L314.76,438.75Z" fill="#1f3f8f"/>
<path d="M320.49,430.45 L322.47,432.65 L320.49,434.85 L318.51,432.65Z" fill="#1f3f8f"/>
<path d="M324.24,427.40 L326.22,429.60 L324.24,431.80 L322.25,429.60Z" fill="#1f3f8f"/>
<path d="M327.98,427.40 L329.96,429.60 L327.98,431.80 L326.00,429.60Z" fill="#1f3f8f"/>
<path d="M339.21,424.35 L341.19,426.55 L339.21,428.75 L337.23,426.55Z" fill="#1f3f8f"/>
<path d="M346.70,421.30 L348.69,423.50 L346.70,425.70 L344.72,423.50Z" fill="#1f3f8f"/>
<path d="M365.43,430.45 L367.41,432.65 L365.43,434.85 L363.45,432.65Z" fill="#1f3f8f"/>
<path d="M372.92,427.40 L374.90,429.60 L372.92,431.80 L370.94,429.60Z" fill="#1f3f8f"/>
<path d="M380.41,430.45 L382.39,432.65 L380.41,434.85 L378.43,432.65Z" fill="#1f3f8f"/>
<path d="M391.64,433.50 L393.62,435.70 L391.64,437.90 L389.66,435.70Z" fill="#1f3f8f"/>
<path d="M399.13,436.55 L401.12,438.75 L399.13,440.95 L397.15,438.75Z" fill="#1f3f8f"/>
<path d="M406.62,442.65 L408.61,444.85 L406.62,447.05 L404.64,444.85Z" fill="#1f3f8f"/>
<path d="M421.61,427.40 L423.59,429.60 L421.61,431.80 L419.62,429.60Z" fill="#1f3f8f"/>
<path d="M432.84,427.40 L434.82,429.60 L432.84,431.80 L430.86,429.60Z" fill="#1f3f8f"/>
<path d="M444.08,424.35 L446.06,426.55 L444.08,428.75 L442.10,426.55Z" fill="#1f3f8f"/>
<polyline points="316.75,438.75 320.49,429.60 324.24,426.55 327.98,429.60 339.21,423.50 346.70,417.40 365.43,423.50 372.92,420.45 380.41,420.45 391.64,417.40" fill="none" stroke="#4b5168" stroke-width="1.4" stroke-linejoin="round" />
<circle cx="316.75" cy="438.75" r="2.0" fill="#4b5168"/>
<circle cx="320.49" cy="429.60" r="2.0" fill="#4b5168"/>
<circle cx="324.24" cy="426.55" r="2.0" fill="#4b5168"/>
<circle cx="327.98" cy="429.60" r="2.0" fill="#4b5168"/>
<circle cx="339.21" cy="423.50" r="2.0" fill="#4b5168"/>
<circle cx="346.70" cy="417.40" r="2.0" fill="#4b5168"/>
<circle cx="365.43" cy="423.50" r="2.0" fill="#4b5168"/>
<circle cx="372.92" cy="420.45" r="2.0" fill="#4b5168"/>
<circle cx="380.41" cy="420.45" r="2.0" fill="#4b5168"/>
<circle cx="391.64" cy="417.40" r="2.0" fill="#4b5168"/>
<polyline points="316.75,438.75 320.49,432.65 324.24,429.60 327.98,432.65 339.21,426.55 346.70,420.45 365.43,420.45 372.92,417.40 380.41,417.40 391.64,414.35" fill="none" stroke="#4b5168" stroke-width="1.4" stroke-linejoin="round" />
<circle cx="316.75" cy="438.75" r="2.0" fill="#4b5168"/>
<circle cx="320.49" cy="432.65" r="2.0" fill="#4b5168"/>
<circle cx="324.24" cy="429.60" r="2.0" fill="#4b5168"/>
<circle cx="327.98" cy="432.65" r="2.0" fill="#4b5168"/>
<circle cx="339.21" cy="426.55" r="2.0" fill="#4b5168"/>
<circle cx="346.70" cy="420.45" r="2.0" fill="#4b5168"/>
<circle cx="365.43" cy="420.45" r="2.0" fill="#4b5168"/>
<circle cx="372.92" cy="417.40" r="2.0" fill="#4b5168"/>
<circle cx="380.41" cy="417.40" r="2.0" fill="#4b5168"/>
<circle cx="391.64" cy="414.35" r="2.0" fill="#4b5168"/>
<polyline points="316.75,438.75 320.49,435.70 324.24,432.65 327.98,432.65 339.21,429.60 346.70,423.50 365.43,426.55 372.92,423.50 380.41,423.50 391.64,426.55" fill="none" stroke="#4b5168" stroke-width="1.4" stroke-linejoin="round" />
<circle cx="316.75" cy="438.75" r="2.0" fill="#4b5168"/>
<circle cx="320.49" cy="435.70" r="2.0" fill="#4b5168"/>
<circle cx="324.24" cy="432.65" r="2.0" fill="#4b5168"/>
<circle cx="327.98" cy="432.65" r="2.0" fill="#4b5168"/>
<circle cx="339.21" cy="429.60" r="2.0" fill="#4b5168"/>
<circle cx="346.70" cy="423.50" r="2.0" fill="#4b5168"/>
<circle cx="365.43" cy="426.55" r="2.0" fill="#4b5168"/>
<circle cx="372.92" cy="423.50" r="2.0" fill="#4b5168"/>
<circle cx="380.41" cy="423.50" r="2.0" fill="#4b5168"/>
<circle cx="391.64" cy="426.55" r="2.0" fill="#4b5168"/>
<polyline points="316.75,438.75 320.49,429.60 324.24,429.60 327.98,426.55 339.21,420.45 346.70,420.45 365.43,423.50 372.92,426.55 380.41,426.55 391.64,426.55" fill="none" stroke="#4b5168" stroke-width="1.4" stroke-linejoin="round" />
<circle cx="316.75" cy="438.75" r="2.0" fill="#4b5168"/>
<circle cx="320.49" cy="429.60" r="2.0" fill="#4b5168"/>
<circle cx="324.24" cy="429.60" r="2.0" fill="#4b5168"/>
<circle cx="327.98" cy="426.55" r="2.0" fill="#4b5168"/>
<circle cx="339.21" cy="420.45" r="2.0" fill="#4b5168"/>
<circle cx="346.70" cy="420.45" r="2.0" fill="#4b5168"/>
<circle cx="365.43" cy="423.50" r="2.0" fill="#4b5168"/>
<circle cx="372.92" cy="426.55" r="2.0" fill="#4b5168"/>
<circle cx="380.41" cy="426.55" r="2.0" fill="#4b5168"/>
<circle cx="391.64" cy="426.55" r="2.0" fill="#4b5168"/>
<polyline points="316.75,438.75 320.49,432.65 324.24,435.70 327.98,435.70 339.21,432.65 346.70,426.55 365.43,429.60 372.92,429.60 380.41,429.60 391.64,432.65" fill="none" stroke="#4b5168" stroke-width="1.4" stroke-linejoin="round" />
<circle cx="316.75" cy="438.75" r="2.0" fill="#4b5168"/>
<circle cx="320.49" cy="432.65" r="2.0" fill="#4b5168"/>
<circle cx="324.24" cy="435.70" r="2.0" fill="#4b5168"/>
<circle cx="327.98" cy="435.70" r="2.0" fill="#4b5168"/>
<circle cx="339.21" cy="432.65" r="2.0" fill="#4b5168"/>
<circle cx="346.70" cy="426.55" r="2.0" fill="#4b5168"/>
<circle cx="365.43" cy="429.60" r="2.0" fill="#4b5168"/>
<circle cx="372.92" cy="429.60" r="2.0" fill="#4b5168"/>
<circle cx="380.41" cy="429.60" r="2.0" fill="#4b5168"/>
<circle cx="391.64" cy="432.65" r="2.0" fill="#4b5168"/>
<polyline points="316.75,438.75 320.49,435.70 324.24,432.65 327.98,435.70 339.21,432.65 346.70,435.70 365.43,435.70 372.92,435.70 380.41,432.65 391.64,435.70" fill="none" stroke="#4b5168" stroke-width="1.4" stroke-linejoin="round" />
<circle cx="316.75" cy="438.75" r="2.0" fill="#4b5168"/>
<circle cx="320.49" cy="435.70" r="2.0" fill="#4b5168"/>
<circle cx="324.24" cy="432.65" r="2.0" fill="#4b5168"/>
<circle cx="327.98" cy="435.70" r="2.0" fill="#4b5168"/>
<circle cx="339.21" cy="432.65" r="2.0" fill="#4b5168"/>
<circle cx="346.70" cy="435.70" r="2.0" fill="#4b5168"/>
<circle cx="365.43" cy="435.70" r="2.0" fill="#4b5168"/>
<circle cx="372.92" cy="435.70" r="2.0" fill="#4b5168"/>
<circle cx="380.41" cy="432.65" r="2.0" fill="#4b5168"/>
<circle cx="391.64" cy="435.70" r="2.0" fill="#4b5168"/>
<polyline points="316.75,438.75 320.49,426.55 324.24,423.50 327.98,426.55 339.21,423.50 346.70,420.45 365.43,420.45 372.92,423.50 380.41,420.45 391.64,420.45" fill="none" stroke="#4b5168" stroke-width="1.4" stroke-linejoin="round" />
<circle cx="316.75" cy="438.75" r="2.0" fill="#4b5168"/>
<circle cx="320.49" cy="426.55" r="2.0" fill="#4b5168"/>
<circle cx="324.24" cy="423.50" r="2.0" fill="#4b5168"/>
<circle cx="327.98" cy="426.55" r="2.0" fill="#4b5168"/>
<circle cx="339.21" cy="423.50" r="2.0" fill="#4b5168"/>
<circle cx="346.70" cy="420.45" r="2.0" fill="#4b5168"/>
<circle cx="365.43" cy="420.45" r="2.0" fill="#4b5168"/>
<circle cx="372.92" cy="423.50" r="2.0" fill="#4b5168"/>
<circle cx="380.41" cy="420.45" r="2.0" fill="#4b5168"/>
<circle cx="391.64" cy="420.45" r="2.0" fill="#4b5168"/>
<line x1="313.00" y1="438.75" x2="501.8" y2="438.75" stroke="#000" stroke-width="1.1" stroke-dasharray="2.6,1.6"/>
<text x="45.00" y="551.80" font-size="8.4" text-anchor="start" fill="#231f20" textLength="61.60" lengthAdjust="spacingAndGlyphs" ><tspan font-size="5.21" dy="1.68">RV</tspan><tspan dy="-1.68">19BB</tspan><tspan font-size="5.21" dy="1.68">CR</tspan><tspan dy="-1.68">TCR</tspan><tspan font-size="4.62" dy="-3.19">+</tspan><tspan dy="3.19">_1</tspan></text>
<text x="157.40" y="551.80" font-size="8.4" text-anchor="start" fill="#231f20" textLength="63.60" lengthAdjust="spacingAndGlyphs" ><tspan font-size="5.21" dy="1.68">RV</tspan><tspan dy="-1.68">19BB</tspan><tspan font-size="5.21" dy="1.68">CR</tspan><tspan dy="-1.68">TCR</tspan><tspan font-size="4.62" dy="-3.19">+</tspan><tspan dy="3.19">_2</tspan></text>
<text x="274.20" y="551.10" font-size="8.4" text-anchor="start" fill="#231f20" textLength="56.50" lengthAdjust="spacingAndGlyphs" ><tspan font-size="5.21" dy="1.68">RV</tspan><tspan dy="-1.68">19BB</tspan><tspan font-size="5.21" dy="1.68">CR</tspan><tspan dy="-1.68">TRBC</tspan><tspan font-size="4.62" dy="-3.19">-</tspan></text>
<filter id="h2" x="19.2" y="556.3" width="112.4" height="112.6" filterUnits="userSpaceOnUse" color-interpolation-filters="sRGB"><feTurbulence type="fractalNoise" baseFrequency="0.4" numOctaves="3" seed="2"/><feColorMatrix type="matrix" values="0.36 0 0 0 0.560  0.34 0 0 0 0.580  0.22 0 0 0 0.760  0 0 0 0 1"/></filter>
<rect x="19.2" y="556.3" width="112.4" height="112.6" fill="#b8bcdf" filter="url(#h2)"/>
<filter id="h5" x="132.9" y="556.3" width="112.2" height="112.6" filterUnits="userSpaceOnUse" color-interpolation-filters="sRGB"><feTurbulence type="fractalNoise" baseFrequency="0.4" numOctaves="3" seed="5"/><feColorMatrix type="matrix" values="0.46 0 0 0 0.520  0.44 0 0 0 0.540  0.3 0 0 0 0.725  0 0 0 0 1"/></filter>
<rect x="132.9" y="556.3" width="112.2" height="112.6" fill="#b8bcdf" filter="url(#h5)"/>
<filter id="h9" x="246.6" y="556.3" width="112.0" height="111.8" filterUnits="userSpaceOnUse" color-interpolation-filters="sRGB"><feTurbulence type="fractalNoise" baseFrequency="0.2" numOctaves="3" seed="9"/><feColorMatrix type="matrix" values="0.8 0 0 0 0.250  0.76 0 0 0 0.290  0.5 0 0 0 0.590  0 0 0 0 1"/></filter>
<rect x="246.6" y="556.3" width="112.0" height="111.8" fill="#b8bcdf" filter="url(#h9)"/>
<filter id="bl2" x="-30%" y="-30%" width="160%" height="160%"><feGaussianBlur stdDeviation="1.2"/></filter>
<clipPath id="cg3"><rect x="132.9" y="556.3" width="225.7" height="112.2"/></clipPath>
<g clip-path="url(#cg3)"><g filter="url(#bl2)">
<ellipse cx="266" cy="583" rx="13" ry="17" transform="rotate(-20 266 583)" fill="#b7bbe0" opacity="0.65"/>
<ellipse cx="298" cy="588" rx="15" ry="19" transform="rotate(15 298 588)" fill="#b7bbe0" opacity="0.65"/>
<ellipse cx="322" cy="626" rx="15" ry="12" transform="rotate(0 322 626)" fill="#b7bbe0" opacity="0.65"/>
<ellipse cx="287" cy="627" rx="12" ry="10" transform="rotate(0 287 627)" fill="#b7bbe0" opacity="0.65"/>
<ellipse cx="352" cy="620" rx="9" ry="12" transform="rotate(0 352 620)" fill="#b7bbe0" opacity="0.65"/>
<ellipse cx="336" cy="574" rx="8" ry="6" fill="#6e74b4" opacity="0.55"/>
<ellipse cx="346" cy="600" rx="5" ry="8" fill="#6e74b4" opacity="0.55"/>
<ellipse cx="256" cy="652" rx="8" ry="6" fill="#6e74b4" opacity="0.55"/>
<ellipse cx="300" cy="656" rx="10" ry="5" fill="#6e74b4" opacity="0.55"/>
<ellipse cx="332" cy="650" rx="8" ry="6" fill="#6e74b4" opacity="0.55"/>
<ellipse cx="270" cy="560" rx="8" ry="4" fill="#6e74b4" opacity="0.55"/>
<ellipse cx="350" cy="560" rx="6" ry="4" fill="#6e74b4" opacity="0.55"/>
<ellipse cx="210" cy="627" rx="8" ry="4" fill="#767cba" opacity="0.6"/>
<ellipse cx="150" cy="565" rx="6" ry="4" fill="#767cba" opacity="0.6"/>
</g></g>
<circle cx="262" cy="581" r="1.6" fill="#f2f0e4" opacity="0.9"/>
<circle cx="280" cy="590" r="1.6" fill="#f2f0e4" opacity="0.9"/>
<circle cx="300" cy="587" r="1.6" fill="#f2f0e4" opacity="0.9"/>
<circle cx="296" cy="600" r="1.6" fill="#f2f0e4" opacity="0.9"/>
<circle cx="320" cy="621" r="1.6" fill="#f2f0e4" opacity="0.9"/>
<circle cx="345" cy="621" r="1.6" fill="#f2f0e4" opacity="0.9"/>
<circle cx="298" cy="625" r="1.6" fill="#f2f0e4" opacity="0.9"/>
<circle cx="256" cy="583" r="1.6" fill="#f2f0e4" opacity="0.9"/>
<filter id="bl1" x="-10%" y="-10%" width="120%" height="120%"><feGaussianBlur stdDeviation="0.8"/></filter>
<clipPath id="cg1"><rect x="19.2" y="556.3" width="112.4" height="112.6"/></clipPath>
<g clip-path="url(#cg1)">
<path d="M84,556.3 L131.6,556.3 L131.6,600 C118,590 100,572 84,556.3Z" fill="#8a90c2" opacity="0.35" filter="url(#bl2)"/>
<ellipse cx="58" cy="592" rx="7" ry="6" fill="#8a90c4" opacity="0.35" filter="url(#bl2)"/>
<ellipse cx="66" cy="612" rx="6" ry="5" fill="#8a90c4" opacity="0.35" filter="url(#bl2)"/>
<ellipse cx="98" cy="626" rx="8" ry="6" fill="#8a90c4" opacity="0.35" filter="url(#bl2)"/>
<ellipse cx="45" cy="640" rx="6" ry="5" fill="#8a90c4" opacity="0.35" filter="url(#bl2)"/>
<ellipse cx="110" cy="650" rx="7" ry="5" fill="#8a90c4" opacity="0.35" filter="url(#bl2)"/>
<ellipse cx="80" cy="600" rx="5" ry="4" fill="#8a90c4" opacity="0.35" filter="url(#bl2)"/>
<ellipse cx="28" cy="622" rx="5" ry="3" fill="#e8e8f2" opacity="0.6" filter="url(#bl2)"/>
<ellipse cx="70" cy="646" rx="6" ry="2" fill="#e8e8f2" opacity="0.6" filter="url(#bl2)"/>
</g>
<path d="M100.5,556.3 L131.6,556.3 L131.6,580 C121,573 110,563 100.5,556.3Z" fill="#ebebf0" filter="url(#bl1)"/>
<rect x="131.6" y="556" width="1.3" height="113" fill="#fff"/>
<rect x="245.1" y="556" width="1.5" height="113" fill="#fff"/>
<line x1="107.10" y1="664.80" x2="130.90" y2="664.80" stroke="#111" stroke-width="1.0" />
<text x="106.80" y="661.60" font-size="6.8" text-anchor="start" font-weight="normal" fill="#111" style="stroke-width:0.08px" textLength="25.00" lengthAdjust="spacingAndGlyphs" >100 µm</text>
<line x1="220.60" y1="664.80" x2="244.40" y2="664.80" stroke="#111" stroke-width="1.0" />
<text x="220.30" y="661.60" font-size="6.8" text-anchor="start" font-weight="normal" fill="#111" style="stroke-width:0.08px" textLength="25.00" lengthAdjust="spacingAndGlyphs" >100 µm</text>
<line x1="333.70" y1="664.80" x2="357.50" y2="664.80" stroke="#111" stroke-width="1.0" />
<text x="336.50" y="661.60" font-size="6.8" text-anchor="start" font-weight="normal" fill="#111" style="stroke-width:0.08px" textLength="20.50" lengthAdjust="spacingAndGlyphs" >70 µm</text>
<rect x="0" y="0" width="520" height="1.1" fill="#000"/><rect x="0" y="0" width="1.1" height="676" fill="#000"/><rect x="518.8" y="0" width="1.2" height="676" fill="#000"/><rect x="0" y="674.7" width="520" height="1.3" fill="#000"/>
</svg></body></html>
